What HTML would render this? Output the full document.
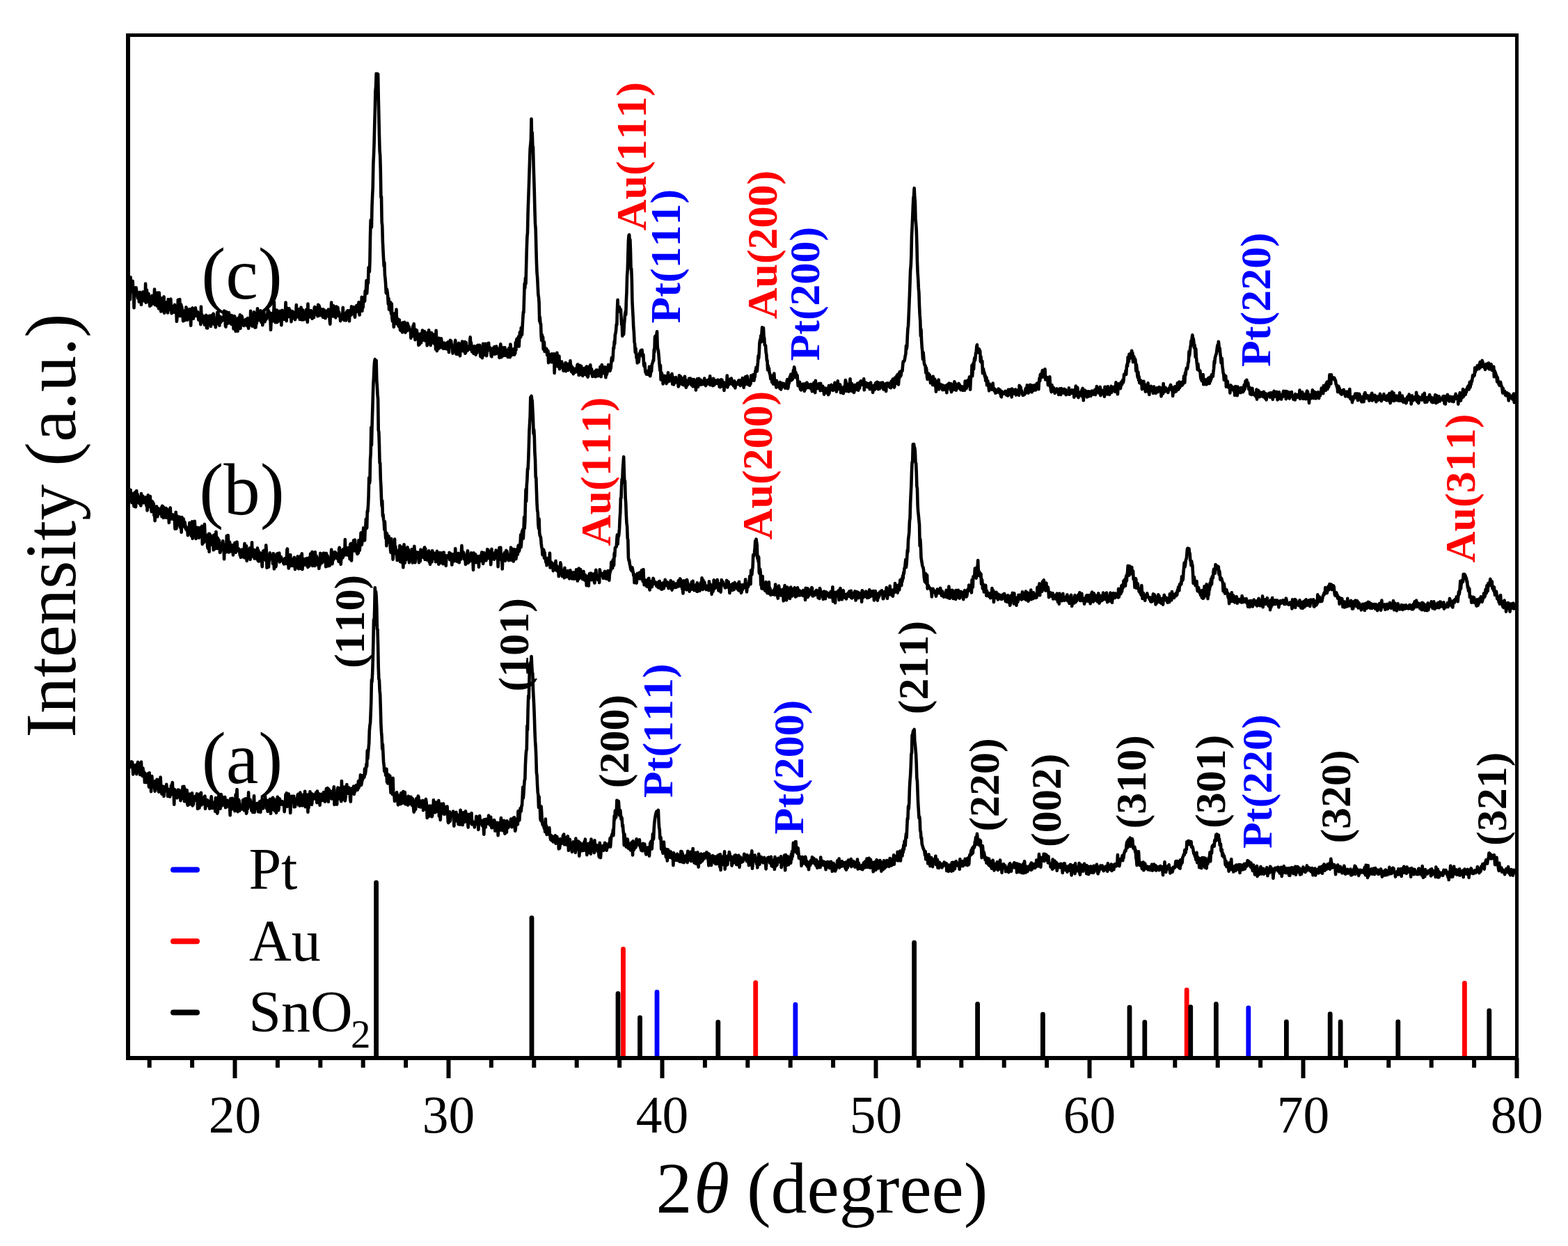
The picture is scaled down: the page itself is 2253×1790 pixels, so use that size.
<!DOCTYPE html>
<html><head><meta charset="utf-8"><title>XRD patterns</title>
<style>
html,body{margin:0;padding:0;background:#fff;overflow:hidden;}
svg{display:block;}
text{font-family:"Liberation Serif","Times New Roman",serif;font-kerning:none;}
.pl text{font-weight:bold;font-size:62px;}
</style></head><body>
<svg width="2253" height="1790" viewBox="0 0 2253 1790">
<rect width="2253" height="1790" fill="#fff"/>

<defs><clipPath id="pc"><rect x="187" y="53" width="1990" height="1464"/></clipPath></defs>
<g clip-path="url(#pc)" fill="none" stroke="#000" stroke-width="4.6" stroke-linejoin="round" stroke-linecap="round">
<path d="M187.0 430.3l.61 -31.9l.62 21.2l.61 -6.6l.62 1.2l.61 2.0l.61 -12.3l.62 12.8l.61 -4.1l.62 29.6l.61 -21.3l.61 -3.8l.62 0.9l.61 -2.4l.62 -2.4l.61 5.0l.61 6.4l.62 -4.7l.61 8.6l.62 -7.8l.61 1.9l.61 10.9l.62 -6.6l.61 -7.1l.62 2.6l.61 5.3l.61 10.1l.62 -15.1l.61 0.5l.62 9.0l.61 -12.9l.61 4.4l.62 8.5l.61 -1.8l.62 -3.1l.61 4.3l.61 -24.1l.62 27.1l.61 -13.5l.62 -4.6l.61 13.8l.61 3.2l.62 -7.7l.61 -4.1l.62 7.9l.61 -0.3l.61 10.4l.62 -4.3l.61 -3.5l.62 6.6l.61 -8.9l.61 -4.7l.62 10.7l.61 0.3l.62 -5.3l.61 -3.7l.61 7.3l.62 -18.6l.61 22.3l.62 -1.2l.61 -14.5l.61 12.0l.62 -6.8l.61 12.1l.62 -19.0l.61 8.0l.61 11.4l.62 3.4l.61 -22.7l.62 11.7l.61 5.9l.61 -6.2l.62 15.4l.61 -19.0l.62 10.9l.61 -9.4l.61 17.1l.62 -9.6l.61 -2.2l.62 -9.0l.61 23.6l.61 -6.2l.62 0.3l.61 2.8l.62 -5.2l.61 -6.6l.61 -0.9l.62 0.2l.61 15.2l.62 -19.3l.61 6.2l.61 2.1l.62 4.0l.61 2.6l.62 -12.4l.61 -3.0l.61 12.0l.62 8.6l.61 -2.9l.62 -3.5l.61 -3.5l.61 4.4l.62 -3.5l.61 7.5l.62 -10.9l.61 6.6l.61 -1.5l.62 4.7l.61 -2.0l.62 16.2l.61 -7.0l.61 0.2l.62 -24.1l.61 11.9l.62 -1.6l.61 8.0l.61 -19.1l.62 23.9l.61 -0.6l.62 -16.0l.61 2.4l.61 1.5l.62 5.9l.61 4.3l.62 9.8l.61 -15.1l.61 6.8l.62 -4.0l.61 11.2l.62 -6.8l.61 4.5l.61 -16.5l.62 6.2l.61 -4.0l.62 16.0l.61 -5.6l.61 -6.4l.62 -0.8l.61 6.6l.62 -7.9l.61 -1.4l.61 9.8l.62 13.7l.61 -18.2l.62 -2.0l.61 -4.0l.61 -0.9l.62 12.8l.61 2.4l.62 -5.5l.61 2.3l.61 -1.3l.62 0.4l.61 -11.2l.62 7.4l.61 4.1l.61 -5.9l.62 2.2l.61 -2.2l.62 3.5l.61 8.2l.61 -8.4l.62 1.9l.61 6.7l.62 -1.0l.61 7.2l.61 -25.5l.62 20.1l.61 -8.9l.62 4.3l.61 4.9l.61 1.8l.62 -0.2l.61 -5.8l.62 9.9l.61 -12.6l.61 1.1l.62 6.5l.61 -9.0l.62 18.5l.61 -7.6l.61 7.9l.62 -14.7l.61 -2.3l.62 3.9l.61 4.0l.61 -8.8l.62 6.6l.61 -2.5l.62 11.1l.61 -15.2l.61 11.7l.62 -11.3l.61 -2.0l.62 1.8l.61 -3.1l.61 9.1l.62 6.1l.61 -5.7l.62 3.2l.61 6.9l.61 -9.0l.62 -0.4l.61 -3.1l.62 -8.9l.61 16.1l.61 -16.9l.62 16.3l.61 -4.4l.62 7.8l.61 -7.9l.61 -5.0l.62 8.0l.61 -6.1l.62 2.6l.61 1.5l.61 -1.1l.62 -0.3l.61 -4.3l.62 4.4l.61 -13.0l.61 13.3l.62 -7.0l.61 15.6l.62 1.0l.61 -21.6l.61 14.1l.62 -1.8l.61 -6.2l.62 10.6l.61 -6.7l.61 -8.8l.62 10.1l.61 0.8l.62 1.7l.61 -9.0l.61 12.3l.62 0.8l.61 -12.6l.62 3.2l.61 3.9l.61 -3.3l.62 15.4l.61 -10.3l.62 -8.1l.61 1.4l.61 4.9l.62 15.7l.61 -16.6l.62 2.0l.61 2.6l.61 -3.8l.62 15.5l.61 -18.8l.62 8.4l.61 -3.9l.61 3.0l.62 -12.0l.61 19.6l.62 -12.6l.61 0.9l.61 -6.4l.62 1.3l.61 8.5l.62 2.8l.61 -1.6l.61 3.0l.62 -3.4l.61 -4.6l.62 5.3l.61 -1.6l.61 -4.7l.62 5.4l.61 3.7l.62 -7.0l.61 -4.0l.61 7.1l.62 7.7l.61 -14.0l.62 0.7l.61 -0.3l.61 8.9l.62 -20.3l.61 14.5l.62 5.4l.61 -13.3l.61 15.2l.62 -6.4l.61 -7.2l.62 4.9l.61 -11.6l.61 6.4l.62 15.7l.61 -18.0l.62 18.0l.61 -12.8l.61 7.1l.62 -6.3l.61 -15.2l.62 11.0l.61 4.9l.61 -8.9l.62 -1.4l.61 11.3l.62 -6.8l.61 -7.0l.61 6.6l.62 10.1l.61 -8.9l.62 9.2l.61 3.8l.61 -10.0l.62 -7.7l.61 -1.3l.62 8.3l.61 5.9l.61 -4.2l.62 1.8l.61 -6.7l.62 4.8l.61 -5.2l.61 0.8l.62 -6.4l.61 -2.0l.62 7.0l.61 -4.2l.61 0.8l.62 10.6l.61 -5.2l.62 19.7l.61 -13.2l.61 -10.4l.62 9.2l.61 -2.9l.62 -7.0l.61 11.6l.61 -12.4l.62 -15.1l.61 25.1l.62 -9.4l.61 13.7l.61 -14.1l.62 -3.6l.61 17.7l.62 -17.2l.61 8.2l.61 8.1l.62 -8.9l.61 -1.4l.62 1.1l.61 4.7l.61 -10.8l.62 9.1l.61 -0.3l.62 11.4l.61 -17.5l.61 -3.9l.62 10.7l.61 -7.5l.62 4.5l.61 -1.1l.61 6.7l.62 -12.0l.61 3.6l.62 -16.1l.61 10.8l.61 15.8l.62 -14.5l.61 -0.2l.62 -3.4l.61 11.7l.61 -2.6l.62 -8.9l.61 12.0l.62 -2.7l.61 3.2l.61 -9.1l.62 15.5l.61 -8.7l.62 -3.5l.61 -2.6l.61 1.7l.62 7.2l.61 -7.4l.62 8.8l.61 -3.3l.61 5.0l.62 -3.5l.61 -5.8l.62 -12.0l.61 14.3l.61 3.2l.62 -4.1l.61 2.5l.62 -6.7l.61 0.6l.61 -3.7l.62 14.9l.61 -7.8l.62 -4.2l.61 -5.5l.61 7.6l.62 10.3l.61 -6.4l.62 -7.7l.61 14.0l.61 -0.1l.62 -2.9l.61 -1.3l.62 2.4l.61 -4.0l.61 1.5l.62 -10.1l.61 14.7l.62 -8.2l.61 11.5l.61 -26.3l.62 17.8l.61 1.7l.62 -8.6l.61 5.2l.61 1.8l.62 -1.1l.61 -7.2l.62 2.5l.61 7.5l.61 1.6l.62 -7.6l.61 -0.2l.62 0.8l.61 5.4l.61 -13.5l.62 -1.8l.61 9.3l.62 -8.0l.61 3.4l.61 4.3l.62 2.5l.61 -10.0l.62 12.0l.61 -16.6l.61 14.9l.62 -13.7l.61 1.9l.62 12.4l.61 -6.8l.61 -2.6l.62 2.3l.61 5.8l.62 -3.3l.61 0.1l.61 7.0l.62 -11.4l.61 1.6l.62 -0.4l.61 10.9l.61 -1.1l.62 1.9l.61 -8.5l.62 -0.8l.61 6.5l.61 -8.0l.62 7.9l.61 -0.7l.62 -9.1l.61 4.0l.61 -0.2l.62 11.9l.61 5.5l.62 -17.2l.61 0.7l.61 -14.7l.62 16.1l.61 -1.4l.62 -6.8l.61 12.0l.61 -15.1l.62 8.7l.61 2.3l.62 -8.9l.61 13.6l.61 1.3l.62 -15.7l.61 -0.1l.62 12.9l.61 -4.0l.61 -7.6l.62 5.9l.61 1.3l.62 -0.3l.61 6.3l.61 -2.8l.62 8.9l.61 -2.5l.62 -4.5l.61 2.6l.61 1.5l.62 -3.9l.61 -12.5l.62 13.4l.61 -5.1l.61 10.0l.62 -9.9l.61 2.8l.62 -1.3l.61 8.7l.61 -9.8l.62 -3.0l.61 3.7l.62 -4.9l.61 3.8l.61 -1.2l.62 1.7l.61 10.6l.62 -15.2l.61 2.7l.61 -1.7l.62 5.6l.61 -12.3l.62 3.0l.61 4.1l.61 3.6l.62 -4.1l.61 -3.2l.62 -2.6l.61 8.7l.61 5.9l.62 -7.7l.61 -1.2l.62 1.3l.61 -9.5l.61 3.7l.62 -0.1l.61 3.2l.62 -2.7l.61 -8.4l.61 14.9l.62 3.2l.61 -13.8l.62 3.6l.61 -1.7l.61 2.6l.62 -16.4l.61 20.0l.62 -15.4l.61 10.5l.61 -9.6l.62 -4.8l.61 -0.1l.62 5.3l.61 -14.7l.61 1.0l.62 -3.7l.61 -12.2l.62 18.4l.61 -9.4l.61 -9.2l.62 3.7l.61 -22.5l.62 -0.2l.61 6.5l.61 -15.1l.62 -37.3l.61 -21.6l.62 6.6l.61 3.4l.61 -29.5l.62 -15.6l.61 -12.3l.62 -33.6l.61 -12.4l.61 -17.4l.62 -25.1l.61 -22.0l.62 -27.7l.61 -6.1l.61 -19.0l.62 9.7l.61 11.8l.62 -21.1l.61 0.4l.61 32.1l.62 27.1l.61 27.8l.62 23.0l.61 6.8l.61 21.8l.62 38.4l.61 -0.9l.62 36.4l.61 5.0l.61 23.0l.62 12.6l.61 12.1l.62 10.6l.61 -5.3l.61 18.3l.62 4.9l.61 8.5l.62 12.3l.61 -6.1l.61 1.2l.62 3.8l.61 6.4l.62 10.5l.61 -8.1l.61 16.0l.62 -3.7l.61 -1.4l.62 -5.5l.61 12.3l.61 4.6l.62 -14.7l.61 20.9l.62 4.3l.61 -7.4l.61 2.2l.62 13.5l.61 -6.6l.62 -12.8l.61 6.6l.61 0.0l.62 0.9l.61 -13.3l.62 20.6l.61 -8.1l.61 5.8l.62 -1.2l.61 6.9l.62 -6.7l.61 -2.5l.61 8.9l.62 6.0l.61 -10.2l.62 11.0l.61 -6.4l.61 -4.4l.62 13.2l.61 -14.0l.62 11.7l.61 -8.9l.61 6.3l.62 -9.9l.61 2.8l.62 12.1l.61 -5.0l.61 -0.5l.62 -2.6l.61 5.8l.62 -10.9l.61 2.1l.61 6.2l.62 -3.8l.61 1.2l.62 4.1l.61 -0.1l.61 -0.2l.62 11.7l.61 -3.6l.62 1.6l.61 -7.3l.61 -2.5l.62 -5.4l.61 6.9l.62 -10.1l.61 9.3l.61 8.3l.62 5.4l.61 -3.6l.62 -10.7l.61 8.4l.61 -7.4l.62 9.8l.61 -5.3l.62 6.1l.61 10.4l.61 -9.5l.62 8.6l.61 -12.5l.62 -2.8l.61 10.1l.61 2.6l.62 -13.2l.61 4.0l.62 -8.7l.61 7.6l.61 6.7l.62 -5.5l.61 -2.6l.62 -4.6l.61 10.7l.61 2.8l.62 -0.9l.61 -1.7l.62 -8.7l.61 18.1l.61 -10.4l.62 -0.3l.61 5.4l.62 -16.7l.61 12.6l.61 -0.1l.62 3.2l.61 6.0l.62 -4.9l.61 -13.2l.61 9.0l.62 3.5l.61 -0.1l.62 -8.1l.61 -1.9l.61 13.1l.62 -0.9l.61 -1.9l.62 -9.6l.61 20.6l.61 -26.9l.62 14.9l.61 14.5l.62 -12.8l.61 2.5l.61 -7.9l.62 14.9l.61 -15.1l.62 9.2l.61 -0.5l.61 -6.6l.62 11.4l.61 -13.1l.62 4.5l.61 4.0l.61 -2.0l.62 5.2l.61 2.9l.62 -6.8l.61 -1.3l.61 0.3l.62 1.1l.61 6.9l.62 -5.7l.61 3.8l.61 -2.7l.62 -4.2l.61 9.9l.62 -10.7l.61 6.1l.61 8.6l.62 -14.6l.61 6.0l.62 -8.6l.61 6.3l.61 -5.5l.62 6.6l.61 -1.0l.62 4.0l.61 8.3l.61 -7.3l.62 2.3l.61 -4.0l.62 -1.0l.61 -3.3l.61 -5.4l.62 10.7l.61 9.0l.62 -6.5l.61 -5.6l.61 12.4l.62 -11.7l.61 -1.0l.62 -3.3l.61 1.5l.61 4.1l.62 12.8l.61 -12.4l.62 -4.6l.61 2.4l.61 2.2l.62 -8.3l.61 10.4l.62 3.3l.61 -2.1l.61 1.6l.62 -10.5l.61 -2.3l.62 16.8l.61 -1.0l.61 -14.7l.62 9.8l.61 -1.0l.62 3.0l.61 -1.8l.61 -4.0l.62 4.0l.61 -0.2l.62 -1.1l.61 -10.1l.61 -6.3l.62 12.4l.61 -4.7l.62 10.6l.61 2.6l.61 -2.5l.62 -3.5l.61 2.5l.62 6.2l.61 -10.6l.61 9.3l.62 -1.2l.61 -2.4l.62 6.6l.61 -12.0l.61 9.3l.62 -10.4l.61 1.0l.62 -1.6l.61 8.4l.61 -7.6l.62 5.5l.61 -6.5l.62 12.2l.61 4.3l.61 -8.8l.62 7.8l.61 -5.9l.62 8.9l.61 -11.3l.61 -9.2l.62 16.9l.61 -8.8l.62 -5.0l.61 2.2l.61 -5.3l.62 8.1l.61 -5.0l.62 14.2l.61 -4.5l.61 -12.7l.62 0.9l.61 5.3l.62 -7.4l.61 10.1l.61 0.4l.62 -3.9l.61 1.4l.62 5.8l.61 5.2l.61 0.5l.62 -7.9l.61 4.6l.62 -8.6l.61 6.5l.61 -7.4l.62 9.4l.61 -10.7l.62 1.6l.61 5.4l.61 3.2l.62 -10.8l.61 5.1l.62 3.8l.61 0.6l.61 -5.7l.62 5.2l.61 -1.9l.62 9.3l.61 -4.5l.61 -10.3l.62 -4.7l.61 12.7l.62 6.0l.61 -5.5l.61 4.0l.62 -7.5l.61 -4.8l.62 11.6l.61 -3.6l.61 3.3l.62 -11.4l.61 8.5l.62 -4.5l.61 7.8l.61 -7.7l.62 -0.3l.61 -0.0l.62 10.1l.61 -7.1l.61 -4.5l.62 -1.7l.61 -0.4l.62 13.7l.61 -18.5l.61 5.0l.62 7.9l.61 2.7l.62 -7.9l.61 4.8l.61 -0.6l.62 0.7l.61 -5.9l.62 8.5l.61 -8.8l.61 6.8l.62 -15.8l.61 10.8l.62 -13.6l.61 -2.5l.61 10.4l.62 -9.0l.61 6.0l.62 -10.5l.61 14.0l.61 -11.4l.62 -9.0l.61 5.4l.62 1.5l.61 -13.2l.61 4.3l.62 5.6l.61 -12.0l.62 -10.8l.61 -9.7l.61 0.7l.62 -21.9l.61 -19.7l.62 6.4l.61 -14.3l.61 8.0l.62 -25.6l.61 -23.5l.62 -18.1l.61 -6.1l.61 -28.9l.62 -18.5l.61 -17.2l.62 -19.3l.61 -19.6l.61 -17.4l.62 -5.9l.61 -7.3l.62 -29.2l.61 31.2l.61 -11.5l.62 19.3l.61 1.0l.62 25.9l.61 19.4l.61 20.2l.62 26.2l.61 18.8l.62 7.7l.61 24.5l.61 22.9l.62 15.1l.61 6.6l.62 12.9l.61 12.2l.61 3.6l.62 7.8l.61 26.7l.62 -5.8l.61 9.2l.61 0.2l.62 17.4l.61 6.8l.62 -8.1l.61 7.7l.61 -4.5l.62 17.3l.61 -2.5l.62 -7.9l.61 13.8l.61 -3.2l.62 2.0l.61 1.2l.62 -4.3l.61 2.0l.61 7.6l.62 -2.5l.61 -3.9l.62 17.2l.61 -11.2l.61 -1.0l.62 0.1l.61 8.2l.62 2.3l.61 -3.2l.61 4.0l.62 -12.0l.61 6.6l.62 0.1l.61 3.0l.61 3.1l.62 -12.8l.61 27.6l.62 -20.5l.61 6.8l.61 2.9l.62 0.5l.61 -2.8l.62 -15.9l.61 9.8l.61 9.9l.62 -8.4l.61 -0.3l.62 -6.4l.61 18.7l.61 -3.4l.62 -6.9l.61 4.2l.62 0.4l.61 -4.9l.61 4.5l.62 3.0l.61 1.7l.62 3.9l.61 -6.1l.61 -2.3l.62 4.7l.61 -5.1l.62 -2.9l.61 12.3l.61 -7.5l.62 2.7l.61 2.9l.62 -8.7l.61 9.1l.61 -0.8l.62 -2.6l.61 2.6l.62 -5.6l.61 -7.1l.61 9.8l.62 -3.0l.61 9.2l.62 -2.9l.61 -3.8l.61 3.0l.62 6.7l.61 -0.9l.62 -3.7l.61 0.5l.61 -3.5l.62 0.9l.61 3.8l.62 -3.4l.61 2.2l.61 -6.9l.62 -2.7l.61 0.0l.62 6.4l.61 9.0l.61 -0.6l.62 -10.8l.61 -2.6l.62 11.8l.61 -1.5l.61 -9.0l.62 12.2l.61 -4.3l.62 5.8l.61 -4.8l.61 2.9l.62 -2.8l.61 -6.2l.62 3.7l.61 -2.2l.61 7.6l.62 -9.0l.61 -2.6l.62 11.1l.61 2.4l.61 1.6l.62 -1.7l.61 -12.9l.62 4.1l.61 0.8l.61 2.7l.62 -10.5l.61 10.6l.62 1.5l.61 -6.0l.61 5.3l.62 5.3l.61 -5.6l.62 5.0l.61 -0.2l.61 -3.0l.62 -0.1l.61 -3.7l.62 8.0l.61 -8.5l.61 -1.1l.62 6.9l.61 -7.1l.62 5.6l.61 3.1l.61 -4.8l.62 0.0l.61 4.0l.62 -0.9l.61 -11.4l.61 1.1l.62 13.0l.61 -4.8l.62 -12.4l.61 3.5l.61 6.7l.62 -5.2l.61 7.1l.62 -2.2l.61 1.9l.61 -8.5l.62 8.6l.61 6.4l.62 -14.1l.61 10.2l.61 -2.0l.62 -2.2l.61 -4.1l.62 -6.1l.61 0.8l.61 7.5l.62 0.2l.61 0.3l.62 -2.6l.61 -1.7l.61 -8.6l.62 -6.1l.61 5.1l.62 -1.2l.61 -5.5l.61 -12.5l.62 1.0l.61 -10.4l.62 3.5l.61 -13.1l.61 -1.7l.62 -4.3l.61 -8.6l.62 0.3l.61 -22.5l.61 -13.1l.62 15.7l.61 0.5l.62 -0.2l.61 -5.8l.61 5.1l.62 2.0l.61 -3.6l.62 10.1l.61 11.7l.61 -2.2l.62 18.5l.61 -18.5l.62 7.6l.61 8.6l.61 -12.7l.62 -7.4l.61 -7.7l.62 -4.5l.61 3.9l.61 -19.5l.62 -13.6l.61 -22.7l.62 -7.6l.61 -21.3l.61 -21.3l.62 -7.6l.61 -1.0l.62 7.6l.61 -0.6l.61 16.4l.62 26.2l.61 -0.9l.62 15.1l.61 31.9l.61 12.1l.62 10.7l.61 14.5l.62 7.0l.61 13.9l.61 2.5l.62 12.4l.61 -5.8l.62 6.0l.61 8.1l.61 -0.7l.62 7.8l.61 -2.8l.62 -2.1l.61 3.5l.61 -4.9l.62 -7.4l.61 -0.5l.62 -1.7l.61 -2.1l.61 -0.4l.62 2.0l.61 -2.3l.62 8.7l.61 1.1l.61 -3.1l.62 14.6l.61 1.9l.62 -4.5l.61 7.0l.61 6.4l.62 -2.5l.61 5.2l.62 -2.1l.61 2.2l.61 -4.6l.62 3.7l.61 -3.5l.62 5.1l.61 -11.7l.61 9.6l.62 4.0l.61 -4.1l.62 -4.0l.61 1.3l.61 -9.0l.62 -2.6l.61 -1.1l.62 -3.3l.61 0.6l.61 -15.9l.62 3.5l.61 -21.1l.62 -1.8l.61 -0.1l.61 5.6l.62 -8.2l.61 -3.8l.62 21.0l.61 4.7l.61 1.4l.62 6.6l.61 7.3l.62 8.6l.61 6.5l.61 -7.7l.62 20.8l.61 -9.6l.62 -0.1l.61 6.1l.61 -1.8l.62 11.3l.61 -5.3l.62 -6.4l.61 0.4l.61 -0.1l.62 1.1l.61 5.1l.62 -5.9l.61 10.8l.61 -7.7l.62 -0.1l.61 5.4l.62 -13.5l.61 5.0l.61 7.4l.62 -2.6l.61 0.0l.62 2.0l.61 -4.5l.61 2.2l.62 -5.4l.61 -2.3l.62 14.7l.61 -10.1l.61 1.1l.62 9.8l.61 -1.4l.62 -7.3l.61 0.1l.61 2.2l.62 -4.0l.61 7.0l.62 -1.8l.61 0.0l.61 3.0l.62 -0.1l.61 5.2l.62 -1.4l.61 -14.8l.61 12.1l.62 -9.2l.61 -1.4l.62 9.9l.61 -6.4l.61 1.8l.62 6.4l.61 -7.9l.62 -1.0l.61 5.7l.61 4.1l.62 -3.1l.61 -9.5l.62 4.2l.61 2.3l.61 9.6l.62 -4.7l.61 -0.2l.62 1.7l.61 -6.9l.61 3.7l.62 0.1l.61 -6.7l.62 4.4l.61 2.7l.61 -7.4l.62 8.6l.61 -0.2l.62 1.3l.61 -8.2l.61 4.1l.62 6.1l.61 -3.0l.62 -7.1l.61 4.6l.61 5.5l.62 -6.8l.61 2.1l.62 10.0l.61 -11.8l.61 -0.3l.62 -4.0l.61 1.6l.62 9.7l.61 -7.3l.61 -4.7l.62 1.2l.61 4.2l.62 3.5l.61 -6.8l.61 6.6l.62 -5.4l.61 3.8l.62 0.8l.61 0.4l.61 -4.6l.62 1.2l.61 3.0l.62 -8.0l.61 6.6l.61 1.5l.62 2.4l.61 -4.8l.62 -0.7l.61 1.5l.61 -3.9l.62 2.4l.61 2.8l.62 -0.6l.61 -5.9l.61 3.2l.62 -7.9l.61 13.0l.62 -5.9l.61 3.4l.61 -5.9l.62 4.5l.61 2.4l.62 2.4l.61 -10.4l.61 9.8l.62 -4.5l.61 -2.7l.62 5.6l.61 -3.4l.61 0.0l.62 -1.8l.61 4.1l.62 -0.8l.61 -0.9l.61 -3.4l.62 1.9l.61 4.1l.62 3.9l.61 -5.8l.61 6.4l.62 -6.3l.61 -4.7l.62 7.6l.61 -7.0l.61 6.0l.62 3.0l.61 -6.1l.62 1.0l.61 11.3l.61 -9.8l.62 0.1l.61 2.3l.62 -3.9l.61 0.1l.61 2.1l.62 -12.3l.61 16.8l.62 -10.9l.61 -0.0l.61 7.1l.62 -2.3l.61 -5.6l.62 6.5l.61 -6.0l.61 2.0l.62 -3.6l.61 3.0l.62 5.4l.61 -1.2l.61 0.8l.62 2.7l.61 -4.3l.62 -2.7l.61 1.7l.61 8.4l.62 -7.1l.61 1.3l.62 -1.8l.61 1.4l.61 0.8l.62 -1.9l.61 -0.7l.62 -2.8l.61 -0.3l.61 5.5l.62 1.5l.61 0.7l.62 -3.9l.61 -3.9l.61 6.4l.62 -0.2l.61 -9.3l.62 10.0l.61 -1.0l.61 4.7l.62 -12.3l.61 -0.8l.62 9.0l.61 -11.4l.61 4.5l.62 -1.7l.61 0.2l.62 -4.1l.61 7.2l.61 5.1l.62 -2.5l.61 -0.2l.62 -3.8l.61 7.7l.61 -4.3l.62 1.9l.61 -11.8l.62 7.9l.61 -7.1l.61 6.1l.62 -1.4l.61 -6.6l.62 4.9l.61 3.4l.61 -4.2l.62 -1.0l.61 -8.2l.62 -1.1l.61 -4.3l.61 3.3l.62 2.1l.61 -6.8l.62 -5.8l.61 -9.5l.61 3.3l.62 -8.2l.61 -13.5l.62 -4.4l.61 1.9l.61 -8.0l.62 9.0l.61 -12.4l.62 -8.6l.61 1.6l.61 11.5l.62 -12.3l.61 12.2l.62 2.2l.61 10.1l.61 0.1l.62 0.5l.61 10.0l.62 2.8l.61 9.2l.61 -0.6l.62 13.8l.61 -6.2l.62 5.9l.61 -2.2l.61 6.2l.62 1.8l.61 2.6l.62 5.0l.61 -5.0l.61 -0.0l.62 9.7l.61 -5.2l.62 -0.9l.61 8.7l.61 -1.0l.62 -14.3l.61 10.3l.62 5.5l.61 0.6l.61 -5.4l.62 9.2l.61 -9.8l.62 2.7l.61 1.8l.61 -0.4l.62 3.7l.61 1.1l.62 -4.4l.61 6.3l.61 -8.7l.62 2.1l.61 8.4l.62 -6.8l.61 4.2l.61 -6.3l.62 0.8l.61 0.7l.62 1.2l.61 -2.1l.61 1.5l.62 2.7l.61 2.2l.62 -4.7l.61 2.2l.61 0.9l.62 -8.6l.61 -2.4l.62 13.1l.61 -1.7l.61 -6.0l.62 0.4l.61 -6.5l.62 -3.1l.61 6.0l.61 -9.4l.62 8.7l.61 -9.0l.62 2.3l.61 5.3l.61 -2.0l.62 -11.3l.61 5.2l.62 -9.7l.61 2.7l.61 5.7l.62 6.4l.61 -6.7l.62 7.1l.61 0.2l.61 -3.9l.62 6.7l.61 8.6l.62 -5.5l.61 3.7l.61 2.4l.62 -5.8l.61 9.0l.62 1.7l.61 0.8l.61 -0.8l.62 -7.0l.61 -0.3l.62 -0.5l.61 -0.3l.61 0.6l.62 7.6l.61 2.1l.62 -8.6l.61 6.1l.61 -8.4l.62 3.9l.61 -2.6l.62 -2.5l.61 7.0l.61 0.2l.62 -2.0l.61 -0.4l.62 -1.8l.61 3.5l.61 -1.8l.62 3.5l.61 -5.9l.62 5.9l.61 1.2l.61 3.1l.62 -0.8l.61 -3.5l.62 -3.5l.61 -4.7l.61 7.5l.62 5.8l.61 1.1l.62 -17.2l.61 7.3l.61 1.7l.62 -2.8l.61 5.1l.62 -0.6l.61 -2.3l.61 2.0l.62 -6.3l.61 2.5l.62 0.3l.61 7.4l.61 -10.3l.62 5.8l.61 4.0l.62 -3.4l.61 3.5l.61 -5.9l.62 4.4l.61 1.9l.62 5.4l.61 -6.1l.61 2.8l.62 -5.7l.61 0.3l.62 6.0l.61 -4.1l.61 3.4l.62 -2.9l.61 5.7l.62 1.1l.61 -13.1l.61 10.9l.62 -5.8l.61 0.2l.62 -2.5l.61 3.4l.61 -7.4l.62 1.5l.61 -0.2l.62 4.2l.61 2.6l.61 -0.8l.62 -1.5l.61 -3.9l.62 -4.8l.61 8.7l.61 -1.1l.62 0.8l.61 4.3l.62 -6.5l.61 -0.1l.61 -8.6l.62 11.5l.61 -2.5l.62 -2.8l.61 4.5l.61 -5.8l.62 2.0l.61 10.0l.62 -4.9l.61 0.6l.61 -0.7l.62 -0.5l.61 -1.9l.62 8.4l.61 -9.5l.61 3.2l.62 -3.9l.61 -0.6l.62 -8.4l.61 2.0l.61 13.8l.62 -0.2l.61 -7.8l.62 1.6l.61 2.5l.61 -6.5l.62 11.0l.61 -11.3l.62 1.2l.61 -8.2l.61 17.1l.62 -5.9l.61 6.2l.62 -10.5l.61 5.3l.61 -1.1l.62 0.4l.61 7.5l.62 0.7l.61 -3.6l.61 -7.2l.62 5.2l.61 1.7l.62 -3.2l.61 0.1l.61 -0.4l.62 -5.6l.61 4.5l.62 5.4l.61 -10.4l.61 4.3l.62 2.9l.61 -8.8l.62 4.9l.61 -6.3l.61 4.3l.62 -3.2l.61 2.0l.62 1.6l.61 0.8l.61 0.3l.62 -8.8l.61 15.9l.62 -7.4l.61 -3.3l.61 1.8l.62 3.8l.61 -5.2l.62 2.3l.61 -0.2l.61 4.1l.62 -5.1l.61 4.8l.62 -0.4l.61 -1.9l.61 5.6l.62 -4.9l.61 -4.7l.62 5.9l.61 -0.6l.61 -0.6l.62 1.1l.61 8.5l.62 -8.4l.61 1.0l.61 -2.8l.62 6.3l.61 -5.4l.62 -2.9l.61 -1.7l.61 7.0l.62 0.9l.61 -9.2l.62 3.5l.61 5.4l.61 1.6l.62 -9.3l.61 3.6l.62 5.0l.61 -5.5l.61 0.4l.62 -0.4l.61 -3.1l.62 5.4l.61 1.0l.61 -6.8l.62 5.9l.61 4.0l.62 -3.7l.61 2.9l.61 -6.1l.62 7.6l.61 -8.7l.62 10.6l.61 -9.5l.61 -1.2l.62 -0.9l.61 1.8l.62 -0.5l.61 -1.0l.61 1.2l.62 3.8l.61 0.7l.62 -5.2l.61 6.1l.61 -9.3l.62 -0.4l.61 -0.7l.62 6.7l.61 -9.1l.61 0.2l.62 10.5l.61 1.4l.62 -1.9l.61 -12.1l.61 5.7l.62 2.8l.61 -3.6l.62 -7.7l.61 4.6l.61 -6.3l.62 1.1l.61 13.3l.62 -7.0l.61 -9.9l.61 -1.2l.62 7.1l.61 -5.8l.62 3.7l.61 -6.7l.61 0.3l.62 0.0l.61 -7.5l.62 -6.2l.61 0.6l.61 -0.8l.62 -1.0l.61 -3.1l.62 -4.2l.61 -2.1l.61 -12.0l.62 4.8l.61 -3.9l.62 -15.8l.61 -9.8l.61 -4.3l.62 -14.1l.61 -14.6l.62 -15.3l.61 -17.6l.61 -17.9l.62 -6.4l.61 -14.2l.62 -29.3l.61 -11.3l.61 -13.8l.62 -16.7l.61 -11.9l.62 -4.1l.61 -10.2l.61 13.3l.62 6.1l.61 24.2l.62 7.5l.61 9.0l.61 18.6l.62 26.5l.61 16.3l.62 8.5l.61 13.6l.61 7.1l.62 19.0l.61 12.7l.62 7.8l.61 22.2l.61 -9.5l.62 16.2l.61 9.4l.62 6.0l.61 11.0l.61 -9.6l.62 7.1l.61 7.4l.62 3.3l.61 0.5l.61 0.8l.62 10.2l.61 -7.2l.62 3.9l.61 10.1l.61 2.7l.62 -2.3l.61 -6.1l.62 1.2l.61 0.8l.61 0.0l.62 3.9l.61 7.7l.62 -3.5l.61 -3.3l.61 0.5l.62 -0.9l.61 10.2l.62 -12.5l.61 9.7l.61 -6.4l.62 2.0l.61 -1.3l.62 10.2l.61 -3.8l.61 11.6l.62 -14.7l.61 0.0l.62 7.0l.61 0.2l.61 -3.1l.62 -6.6l.61 13.9l.62 -3.2l.61 -0.5l.61 -3.7l.62 5.1l.61 -4.6l.62 2.6l.61 -0.8l.61 5.8l.62 -6.6l.61 0.6l.62 5.9l.61 -3.4l.61 -0.8l.62 -0.8l.61 4.8l.62 -6.1l.61 4.4l.61 6.2l.62 -6.3l.61 -4.5l.62 -1.6l.61 5.4l.61 -5.3l.62 -1.4l.61 3.3l.62 -1.2l.61 7.7l.61 -9.0l.62 11.8l.61 -9.0l.62 3.4l.61 2.1l.61 -1.7l.62 2.0l.61 -6.7l.62 -4.9l.61 8.0l.61 -5.8l.62 4.3l.61 5.9l.62 -4.5l.61 -1.6l.61 -2.1l.62 3.2l.61 0.4l.62 -5.5l.61 7.2l.61 -5.4l.62 4.9l.61 -2.7l.62 5.5l.61 -0.7l.61 -3.4l.62 -0.7l.61 2.0l.62 3.4l.61 -1.4l.61 -3.8l.62 0.3l.61 4.7l.62 -13.0l.61 8.1l.61 -6.1l.62 8.4l.61 -7.9l.62 0.8l.61 -4.6l.61 3.6l.62 2.1l.61 2.5l.62 -13.0l.61 2.0l.61 16.2l.62 -13.7l.61 -5.8l.62 0.2l.61 -15.5l.61 15.5l.62 -8.7l.61 -9.7l.62 8.3l.61 -11.0l.61 -5.0l.62 3.6l.61 -3.8l.62 -7.0l.61 -1.1l.61 -8.3l.62 -2.4l.61 9.6l.62 1.5l.61 -3.9l.61 0.8l.62 -1.8l.61 3.5l.62 -0.8l.61 15.2l.61 -7.1l.62 7.7l.61 1.5l.62 -2.8l.61 17.5l.61 -6.9l.62 1.1l.61 6.3l.62 -1.8l.61 6.1l.61 -2.1l.62 8.1l.61 -0.5l.62 -4.2l.61 11.0l.61 -2.2l.62 -4.0l.61 6.8l.62 1.1l.61 6.4l.61 -9.9l.62 7.3l.61 -3.1l.62 3.3l.61 -3.0l.61 1.3l.62 2.5l.61 -6.1l.62 -3.2l.61 8.3l.61 -1.3l.62 2.3l.61 2.3l.62 -3.0l.61 5.6l.61 -4.5l.62 0.8l.61 2.9l.62 -0.8l.61 -2.4l.61 1.0l.62 -3.2l.61 0.7l.62 2.8l.61 2.8l.61 -4.6l.62 4.9l.61 4.3l.62 0.9l.61 -7.9l.61 3.9l.62 -1.6l.61 0.8l.62 0.2l.61 -1.1l.61 1.2l.62 -2.3l.61 -1.6l.62 2.0l.61 0.9l.61 2.8l.62 -3.2l.61 1.5l.62 2.6l.61 -8.8l.61 2.5l.62 3.0l.61 -1.9l.62 -3.8l.61 7.5l.61 -4.0l.62 -3.4l.61 10.8l.62 -11.9l.61 4.8l.61 -2.5l.62 3.0l.61 1.7l.62 -5.2l.61 2.7l.61 -0.1l.62 -3.3l.61 8.1l.62 -3.7l.61 -1.8l.61 -1.4l.62 1.3l.61 1.7l.62 -2.3l.61 6.4l.61 -14.2l.62 1.5l.61 7.0l.62 -5.9l.61 6.6l.61 -2.3l.62 4.6l.61 -0.7l.62 3.3l.61 -1.5l.61 1.2l.62 -2.7l.61 1.9l.62 -2.2l.61 -4.1l.61 -2.6l.62 0.1l.61 6.2l.62 -10.8l.61 9.5l.61 -3.6l.62 5.4l.61 -2.1l.62 -3.8l.61 2.7l.61 -8.7l.62 9.3l.61 0.5l.62 -8.9l.61 9.8l.61 -4.0l.62 0.7l.61 -6.4l.62 7.2l.61 -0.5l.61 -2.8l.62 -4.3l.61 5.9l.62 1.2l.61 -4.1l.61 1.5l.62 -7.1l.61 1.8l.62 -0.3l.61 -2.1l.61 9.2l.62 -10.8l.61 -5.3l.62 4.1l.61 -9.2l.61 4.3l.62 0.2l.61 -6.4l.62 -0.6l.61 -3.5l.61 3.6l.62 -3.8l.61 9.7l.62 -4.2l.61 -3.1l.61 -4.0l.62 15.1l.61 -1.7l.62 -2.0l.61 0.4l.61 1.4l.62 -1.0l.61 10.7l.62 -5.1l.61 -5.1l.61 4.4l.62 -6.2l.61 13.6l.62 1.5l.61 4.8l.61 2.1l.62 -10.1l.61 5.3l.62 2.8l.61 -0.2l.61 -4.3l.62 5.4l.61 -0.8l.62 3.7l.61 -4.9l.61 -0.4l.62 -0.7l.61 0.7l.62 -1.2l.61 1.8l.61 3.3l.62 0.0l.61 3.4l.62 -0.7l.61 -1.6l.61 -6.4l.62 6.4l.61 2.3l.62 -8.9l.61 0.7l.61 0.7l.62 -0.2l.61 2.8l.62 -2.3l.61 4.9l.61 -5.8l.62 4.0l.61 -1.3l.62 -1.6l.61 7.3l.61 -3.6l.62 1.9l.61 -3.1l.62 3.8l.61 -0.3l.61 -2.8l.62 -5.8l.61 9.4l.62 -0.4l.61 -1.8l.61 0.2l.62 -0.4l.61 0.3l.62 -4.3l.61 3.4l.61 1.4l.62 -3.4l.61 -1.2l.62 10.2l.61 -4.5l.61 -3.3l.62 -0.7l.61 -7.7l.62 4.4l.61 4.3l.61 5.5l.62 -12.1l.61 5.0l.62 9.4l.61 -4.5l.61 -0.9l.62 2.8l.61 -4.7l.62 -0.2l.61 3.2l.61 0.5l.62 -6.9l.61 9.3l.62 -11.8l.61 3.8l.61 13.6l.62 -12.9l.61 4.2l.62 -6.0l.61 2.5l.61 -1.5l.62 1.2l.61 3.7l.62 4.0l.61 -3.2l.61 2.5l.62 -7.5l.61 7.1l.62 -3.2l.61 2.8l.61 -6.4l.62 0.6l.61 5.8l.62 -2.8l.61 -1.8l.61 -2.9l.62 2.1l.61 2.1l.62 0.8l.61 -4.6l.61 0.7l.62 2.8l.61 -5.6l.62 7.3l.61 -3.4l.61 -0.5l.62 -8.2l.61 2.9l.62 1.9l.61 1.6l.61 -1.9l.62 5.2l.61 -0.9l.62 -1.5l.61 -6.4l.61 12.3l.62 -6.1l.61 3.1l.62 -4.6l.61 2.4l.61 2.4l.62 -1.7l.61 2.6l.62 -4.2l.61 7.7l.61 -14.0l.62 4.8l.61 5.4l.62 -4.5l.61 -0.8l.61 -4.8l.62 10.5l.61 -11.2l.62 8.5l.61 -1.2l.61 2.3l.62 2.0l.61 -7.9l.62 -0.5l.61 1.7l.61 -5.2l.62 8.9l.61 -4.5l.62 1.8l.61 -4.8l.61 3.9l.62 -2.5l.61 1.8l.62 -3.9l.61 7.3l.61 -6.3l.62 -7.2l.61 11.3l.62 -3.8l.61 -2.5l.61 11.9l.62 -9.7l.61 -5.2l.62 2.1l.61 3.0l.61 -2.9l.62 4.7l.61 -1.4l.62 -7.8l.61 2.1l.61 1.2l.62 -5.1l.61 -1.4l.62 3.6l.61 -3.1l.61 -8.7l.62 1.4l.61 -1.4l.62 -0.9l.61 -4.6l.61 5.8l.62 -11.6l.61 -3.1l.62 2.5l.61 -12.7l.61 2.3l.62 4.1l.61 -10.6l.62 -0.3l.61 6.1l.61 -4.3l.62 -2.8l.61 0.1l.62 -4.0l.61 4.7l.61 -1.2l.62 12.9l.61 -6.4l.62 -1.5l.61 3.7l.61 3.0l.62 -3.2l.61 5.0l.62 12.1l.61 -9.1l.61 5.8l.62 8.6l.61 4.1l.62 -7.7l.61 11.5l.61 -5.2l.62 9.3l.61 -2.8l.62 -1.5l.61 5.0l.61 0.6l.62 -3.9l.61 11.7l.62 -8.3l.61 6.3l.61 -5.2l.62 -4.2l.61 3.1l.62 4.2l.61 3.3l.61 4.3l.62 -5.6l.61 -0.9l.62 -3.1l.61 4.5l.61 1.5l.62 -8.7l.61 12.8l.62 -0.4l.61 4.2l.61 -11.1l.62 3.5l.61 0.1l.62 -4.6l.61 1.8l.61 -0.3l.62 5.4l.61 -0.2l.62 3.3l.61 -6.1l.61 -3.4l.62 6.5l.61 -0.1l.62 1.1l.61 2.1l.61 -6.4l.62 4.9l.61 -6.3l.62 4.1l.61 1.9l.61 -2.8l.62 1.2l.61 -5.6l.62 2.6l.61 2.8l.61 -4.7l.62 1.2l.61 11.5l.62 -7.6l.61 -3.8l.61 -0.7l.62 8.4l.61 -14.7l.62 8.5l.61 3.3l.61 -4.2l.62 3.8l.61 -5.6l.62 3.6l.61 0.1l.61 -0.1l.62 0.4l.61 -0.5l.62 3.7l.61 -4.9l.61 -1.2l.62 1.0l.61 -0.2l.62 -4.3l.61 -1.5l.61 1.9l.62 5.6l.61 -3.5l.62 0.8l.61 11.3l.61 -6.2l.62 -4.8l.61 -1.7l.62 6.9l.61 -7.8l.61 6.9l.62 -2.5l.61 2.5l.62 -7.6l.61 5.4l.61 -9.9l.62 5.4l.61 4.1l.62 -1.8l.61 -9.4l.61 8.5l.62 -1.4l.61 -2.5l.62 -3.0l.61 0.8l.61 -1.9l.62 4.6l.61 -2.8l.62 1.0l.61 -2.7l.61 -8.7l.62 3.6l.61 5.7l.62 -14.2l.61 3.0l.61 -6.4l.62 -3.2l.61 1.4l.62 -0.4l.61 -3.9l.61 -4.8l.62 -1.8l.61 -14.4l.62 6.0l.61 -5.7l.61 -6.3l.62 -2.8l.61 -6.8l.62 6.1l.61 -10.1l.61 -4.1l.62 6.4l.61 -1.6l.62 4.0l.61 9.3l.61 -4.0l.62 4.7l.61 12.7l.62 -11.4l.61 11.3l.61 7.0l.62 5.1l.61 6.3l.62 -8.2l.61 8.0l.61 0.0l.62 1.2l.61 1.3l.62 -0.6l.61 8.6l.61 3.2l.62 -5.2l.61 8.0l.62 -3.7l.61 -0.7l.61 -5.0l.62 14.3l.61 -0.8l.62 -3.3l.61 0.1l.61 -3.0l.62 6.8l.61 -2.0l.62 2.2l.61 -1.4l.61 -5.9l.62 -0.8l.61 6.7l.62 -8.2l.61 6.5l.61 1.6l.62 -9.0l.61 6.0l.62 -3.6l.61 0.3l.61 -6.2l.62 0.3l.61 -0.7l.62 2.8l.61 -7.1l.61 -4.1l.62 -10.5l.61 2.7l.62 -8.1l.61 -1.6l.61 -2.6l.62 -1.0l.61 -5.1l.62 -4.7l.61 -3.1l.61 4.9l.62 -9.6l.61 5.1l.62 7.9l.61 -3.6l.61 7.9l.62 4.3l.61 8.7l.62 0.7l.61 -6.9l.61 10.6l.62 4.9l.61 5.5l.62 1.5l.61 8.5l.61 -0.4l.62 -6.1l.61 4.1l.62 -3.3l.61 15.4l.61 -5.3l.62 1.2l.61 -4.0l.62 5.1l.61 3.9l.61 -2.2l.62 0.7l.61 -0.1l.62 9.7l.61 -8.5l.61 -2.7l.62 3.7l.61 0.9l.62 1.3l.61 -0.3l.61 -2.8l.62 3.5l.61 2.3l.62 -6.0l.61 11.9l.61 -0.8l.62 -12.0l.61 5.1l.62 5.0l.61 1.2l.61 1.7l.62 -12.5l.61 2.6l.62 2.1l.61 3.7l.61 -5.7l.62 5.2l.61 -0.1l.62 0.7l.61 -7.3l.61 4.8l.62 -1.0l.61 -2.5l.62 5.2l.61 -6.7l.61 4.9l.62 -8.7l.61 6.7l.62 -1.6l.61 -10.3l.61 3.2l.62 -0.6l.61 -4.5l.62 7.2l.61 0.6l.61 -3.7l.62 5.1l.61 4.5l.62 -2.2l.61 -0.5l.61 9.4l.62 -8.1l.61 5.5l.62 3.4l.61 -0.6l.61 -8.6l.62 5.6l.61 1.0l.62 -0.0l.61 3.0l.61 -0.1l.62 -1.2l.61 0.6l.62 2.7l.61 0.9l.61 -10.6l.62 14.0l.61 -9.2l.62 4.6l.61 -8.1l.61 3.8l.62 -2.4l.61 8.0l.62 -0.6l.61 -2.9l.61 -0.6l.62 2.0l.61 -4.5l.62 1.2l.61 -0.5l.61 5.5l.62 -2.7l.61 -4.4l.62 5.6l.61 0.6l.61 3.0l.62 -6.6l.61 3.3l.62 5.7l.61 -8.1l.61 -0.1l.62 3.0l.61 -3.4l.62 1.7l.61 -1.6l.61 -1.0l.62 5.7l.61 -4.2l.62 -2.1l.61 2.4l.61 0.5l.62 1.6l.61 2.1l.62 2.9l.61 -10.1l.61 3.3l.62 -5.3l.61 6.9l.62 1.0l.61 -3.9l.61 -0.9l.62 -0.3l.61 -1.7l.62 7.2l.61 4.4l.61 -10.3l.62 9.4l.61 -5.9l.62 -4.3l.61 6.6l.61 0.6l.62 -1.2l.61 -2.2l.62 6.5l.61 -6.5l.61 3.1l.62 0.0l.61 -5.2l.62 -3.2l.61 0.4l.61 4.5l.62 2.6l.61 -7.2l.62 3.6l.61 7.6l.61 -11.2l.62 7.6l.61 -0.4l.62 1.5l.61 -7.6l.61 6.1l.62 -5.8l.61 9.1l.62 -7.4l.61 4.2l.61 -3.9l.62 3.1l.61 -5.6l.62 6.1l.61 1.1l.61 -2.1l.62 5.5l.61 -4.2l.62 1.4l.61 -0.9l.61 4.6l.62 -8.5l.61 1.3l.62 0.2l.61 2.8l.61 -1.2l.62 1.9l.61 -1.8l.62 -2.7l.61 1.5l.61 1.7l.62 -9.2l.61 12.4l.62 -6.6l.61 0.7l.61 2.1l.62 -1.7l.61 -4.1l.62 4.1l.61 5.5l.61 -1.2l.62 0.7l.61 -6.1l.62 1.1l.61 4.3l.61 1.5l.62 -5.0l.61 -3.3l.62 -3.3l.61 11.3l.61 -10.0l.62 6.6l.61 1.5l.62 8.0l.61 -10.4l.61 -1.1l.62 1.9l.61 0.2l.62 2.7l.61 -2.2l.61 -5.0l.62 -4.7l.61 8.1l.62 -3.3l.61 7.0l.61 -9.4l.62 5.1l.61 -3.3l.62 -0.6l.61 8.5l.61 -5.2l.62 -1.4l.61 3.0l.62 -5.4l.61 1.2l.61 -1.2l.62 8.8l.61 -5.9l.62 0.7l.61 1.3l.61 -4.8l.62 -0.3l.61 -5.7l.62 6.9l.61 -1.3l.61 -2.9l.62 5.0l.61 -11.2l.62 7.0l.61 -7.1l.61 -0.1l.62 2.4l.61 4.6l.62 -10.1l.61 -0.4l.61 -1.9l.62 10.5l.61 -6.5l.62 -1.6l.61 4.9l.61 -7.7l.62 -9.8l.61 5.1l.62 -3.4l.61 11.5l.61 -13.2l.62 6.3l.61 -2.9l.62 0.6l.61 2.3l.61 0.1l.62 -1.1l.61 -1.0l.62 3.3l.61 -0.3l.61 1.7l.62 4.9l.61 0.2l.62 3.5l.61 -1.5l.61 8.8l.62 -8.5l.61 -0.0l.62 8.1l.61 -5.3l.61 3.7l.62 3.7l.61 -3.1l.62 -0.3l.61 5.2l.61 -1.7l.62 -2.6l.61 -1.8l.62 3.2l.61 -4.0l.61 3.0l.62 -0.5l.61 5.1l.62 1.9l.61 -4.6l.61 0.9l.62 -2.1l.61 -0.8l.62 3.5l.61 3.5l.61 -0.1l.62 0.5l.61 -2.8l.62 -8.3l.61 12.6l.61 1.5l.62 -1.3l.61 0.0l.62 0.8l.61 5.5l.61 -8.0l.62 4.3l.61 -2.5l.62 -0.3l.61 -2.7l.61 -0.7l.62 -2.5l.61 5.8l.62 -3.0l.61 -2.9l.61 1.5l.62 -1.4l.61 9.5l.62 -6.2l.61 1.3l.61 -4.5l.62 0.7l.61 7.1l.62 -4.3l.61 1.6l.61 5.5l.62 0.9l.61 -4.7l.62 -0.7l.61 -0.8l.61 -1.7l.62 7.8l.61 -10.9l.62 3.8l.61 -6.1l.61 2.2l.62 5.7l.61 0.2l.62 -0.4l.61 -2.2l.61 -1.2l.62 0.6l.61 0.5l.62 5.0l.61 1.3l.61 -3.4l.62 -3.3l.61 -1.3l.62 4.2l.61 -1.8l.61 -5.3l.62 10.7l.61 -4.6l.62 -1.0l.61 -1.8l.61 -0.0l.62 6.0l.61 -6.2l.62 3.5l.61 1.8l.61 4.1l.62 -4.1l.61 -2.1l.62 -1.4l.61 4.4l.61 0.5l.62 -4.8l.61 3.5l.62 -2.5l.61 -4.9l.61 2.1l.62 6.1l.61 2.1l.62 -2.5l.61 -2.9l.61 -1.7l.62 4.2l.61 -0.7l.62 -6.5l.61 7.6l.61 -4.5l.62 4.6l.61 -0.4l.62 0.7l.61 1.1l.61 -1.2l.62 -5.8l.61 0.1l.62 6.9l.61 -1.8l.61 -6.9l.62 -1.4l.61 9.7l.62 4.5l.61 -4.7l.61 -3.5l.62 1.7l.61 -10.0l.62 5.8l.61 6.8l.61 -0.5l.62 -10.0l.61 11.1l.62 -2.2l.61 1.4l.61 -3.8l.62 0.7l.61 -3.6l.62 4.7l.61 2.0l.61 -6.2l.62 4.4l.61 -2.9l.62 5.2l.61 -0.2l.61 -11.1l.62 9.4l.61 1.9l.62 -5.2l.61 1.1l.61 0.3l.62 -3.3l.61 3.4l.62 5.6l.61 -3.5l.61 3.5l.62 -1.8l.61 0.7l.62 -3.5l.61 2.1l.61 4.2l.62 -1.8l.61 -3.8l.62 -3.4l.61 -0.7l.61 3.9l.62 0.6l.61 -7.5l.62 6.9l.61 0.4l.61 -0.1l.62 -2.9l.61 9.6l.62 -4.8l.61 -7.4l.61 2.2l.62 5.0l.61 -0.9l.62 -1.3l.61 -0.5l.61 -0.6l.62 -0.8l.61 -1.9l.62 5.3l.61 -11.1l.61 6.8l.62 6.5l.61 -6.7l.62 -1.3l.61 10.2l.61 -2.8l.62 -3.9l.61 -1.5l.62 1.2l.61 -0.4l.61 0.4l.62 -1.7l.61 4.3l.62 -3.6l.61 -4.2l.61 1.7l.62 4.3l.61 -3.4l.62 -4.8l.61 13.2l.61 -3.3l.62 -3.2l.61 -0.2l.62 3.4l.61 2.9l.61 -6.6l.62 3.4l.61 -3.4l.62 3.1l.61 -4.8l.61 -2.3l.62 6.3l.61 -0.5l.62 2.6l.61 -4.6l.61 6.8l.62 -4.2l.61 4.7l.62 -6.2l.61 6.1l.61 -5.2l.62 0.7l.61 2.7l.62 -9.0l.61 2.3l.61 9.6l.62 -11.1l.61 3.4l.62 3.4l.61 3.0l.61 -6.5l.62 2.1l.61 -4.1l.62 2.4l.61 4.7l.61 -2.4l.62 -1.2l.61 1.5l.62 -0.9l.61 0.1l.61 -1.8l.62 -2.1l.61 5.5l.62 -6.1l.61 7.2l.61 3.6l.62 -2.0l.61 2.6l.62 -11.1l.61 4.2l.61 -3.6l.62 0.3l.61 -3.3l.62 1.7l.61 6.8l.61 -0.6l.62 1.6l.61 -0.3l.62 -1.1l.61 -5.3l.61 2.2l.62 2.8l.61 1.6l.62 -5.4l.61 -0.5l.61 0.1l.62 6.7l.61 -3.5l.62 -3.0l.61 -1.6l.61 3.9l.62 -7.1l.61 4.7l.62 -1.3l.61 -0.2l.61 2.5l.62 0.5l.61 8.5l.62 -9.9l.61 1.8l.61 -5.2l.62 -3.1l.61 9.0l.62 2.4l.61 -10.2l.61 2.8l.62 3.5l.61 -3.8l.62 -8.8l.61 10.9l.61 -4.4l.62 2.3l.61 -6.4l.62 5.6l.61 -0.2l.61 -6.8l.62 3.3l.61 -4.8l.62 -0.5l.61 -2.4l.61 0.5l.62 -2.0l.61 5.3l.62 -6.2l.61 -4.4l.61 7.4l.62 -4.3l.61 0.1l.62 -5.2l.61 1.2l.61 -4.4l.62 -4.7l.61 2.3l.62 -1.4l.61 -1.6l.61 1.1l.62 -11.1l.61 6.1l.62 -5.4l.61 0.6l.61 1.6l.62 -2.5l.61 -3.7l.62 4.6l.61 -3.8l.61 3.2l.62 0.7l.61 -6.4l.62 -3.1l.61 4.4l.61 2.8l.62 -1.9l.61 -5.7l.62 -1.9l.61 2.9l.61 0.1l.62 6.1l.61 -2.1l.62 3.1l.61 -3.7l.61 6.7l.62 -6.4l.61 2.0l.62 -3.8l.61 3.2l.61 2.3l.62 -1.3l.61 1.8l.62 -7.2l.61 4.0l.61 4.9l.62 -5.4l.61 -1.3l.62 0.1l.61 -0.6l.61 3.2l.62 5.5l.61 -2.6l.62 -0.8l.61 -1.7l.61 -0.0l.62 14.4l.61 -9.1l.62 3.6l.61 -0.6l.61 4.0l.62 -0.6l.61 3.6l.62 6.4l.61 -6.2l.61 6.1l.62 -0.6l.61 4.3l.62 -3.4l.61 5.2l.61 -3.4l.62 -1.6l.61 3.0l.62 2.5l.61 0.5l.61 3.8l.62 5.8l.61 -6.5l.62 6.2l.61 -0.2l.61 -2.0l.62 0.0l.61 5.2l.62 0.8l.61 -2.1l.61 1.2l.62 0.9l.61 -3.7l.62 5.0l.61 1.1l.61 5.0l.62 -9.4l.61 1.6l.62 3.4l.61 -1.9l.61 0.8l.62 1.6l.61 -0.8l.62 1.1l.61 1.6l.61 -6.3l.62 7.1l.61 -8.8l.62 12.7l.61 -2.4l.61 -4.7"/>
<path d="M187.0 707.2l.61 -3.5l.62 8.1l.61 5.1l.62 5.4l.61 -7.1l.61 -4.4l.62 -1.4l.61 11.3l.62 6.7l.61 -9.5l.61 -10.5l.62 2.2l.61 18.7l.62 -9.7l.61 -13.6l.61 12.1l.62 -7.4l.61 4.1l.62 1.3l.61 -1.3l.61 9.4l.62 -4.1l.61 -3.5l.62 7.5l.61 3.3l.61 -17.4l.62 10.2l.61 -4.9l.62 6.1l.61 -7.7l.61 9.7l.62 -0.1l.61 -1.6l.62 -5.0l.61 5.0l.61 -4.7l.62 -1.6l.61 11.7l.62 -9.3l.61 16.6l.61 -2.9l.62 -19.1l.61 16.5l.62 -9.5l.61 8.5l.61 0.3l.62 -14.2l.61 12.9l.62 0.1l.61 9.1l.61 -15.1l.62 14.1l.61 -12.8l.62 5.8l.61 -3.4l.61 16.7l.62 -6.0l.61 13.7l.62 -12.5l.61 1.8l.61 0.3l.62 -10.1l.61 4.2l.62 10.5l.61 -12.2l.61 4.5l.62 -1.2l.61 4.8l.62 -6.6l.61 1.8l.61 3.2l.62 -0.7l.61 -6.6l.62 12.9l.61 -15.3l.61 1.0l.62 -0.2l.61 16.3l.62 -9.1l.61 -4.0l.61 -0.9l.62 11.5l.61 -10.2l.62 -1.2l.61 13.7l.61 -12.5l.62 6.5l.61 2.6l.62 -2.8l.61 3.1l.61 10.3l.62 -12.9l.61 -4.9l.62 -3.8l.61 12.0l.61 -0.8l.62 4.8l.61 -4.9l.62 0.3l.61 -1.4l.61 1.7l.62 5.2l.61 -3.5l.62 3.8l.61 13.1l.61 -9.8l.62 -14.2l.61 23.8l.62 -9.5l.61 -8.8l.61 13.5l.62 -6.0l.61 -4.2l.62 0.2l.61 -2.2l.61 7.8l.62 7.5l.61 -9.5l.62 5.6l.61 10.7l.61 -21.6l.62 10.8l.61 -3.7l.62 -5.0l.61 0.6l.61 7.5l.62 3.5l.61 -6.5l.62 4.5l.61 5.0l.61 -2.6l.62 4.3l.61 -2.5l.62 0.5l.61 9.8l.61 -8.2l.62 -3.1l.61 4.4l.62 -11.2l.61 4.5l.61 8.3l.62 -0.8l.61 6.8l.62 -10.5l.61 -10.1l.61 24.4l.62 -5.7l.61 -14.8l.62 17.5l.61 -9.1l.61 -12.7l.62 10.2l.61 -0.3l.62 15.2l.61 -16.5l.61 4.2l.62 0.2l.61 -0.4l.62 -3.4l.61 8.3l.61 6.4l.62 -2.8l.61 -10.6l.62 -1.2l.61 9.3l.61 -5.5l.62 0.9l.61 -7.0l.62 25.9l.61 -6.9l.61 -13.0l.62 13.6l.61 3.5l.62 -25.9l.61 13.3l.61 1.4l.62 7.7l.61 -5.1l.62 -0.4l.61 1.6l.61 13.7l.62 2.5l.61 -18.5l.62 -2.5l.61 25.8l.61 -25.5l.62 3.2l.61 4.6l.62 3.5l.61 4.2l.61 -4.2l.62 -8.5l.61 10.0l.62 -1.5l.61 11.7l.61 -12.9l.62 -9.0l.61 2.4l.62 17.8l.61 -13.7l.61 -10.7l.62 11.0l.61 4.4l.62 8.6l.61 -15.2l.61 12.1l.62 1.2l.61 -10.2l.62 3.8l.61 14.0l.61 -0.1l.62 -5.8l.61 -3.4l.62 5.9l.61 -8.7l.61 0.6l.62 -5.2l.61 6.3l.62 -0.3l.61 20.2l.61 -20.6l.62 10.5l.61 0.6l.62 -10.3l.61 9.7l.61 -23.2l.62 16.1l.61 5.5l.62 -22.5l.61 8.9l.61 15.6l.62 -8.9l.61 -5.7l.62 5.3l.61 -1.0l.61 9.0l.62 -1.6l.61 -5.0l.62 -2.5l.61 4.5l.61 9.8l.62 -6.6l.61 2.2l.62 -5.3l.61 -7.8l.61 4.3l.62 9.6l.61 -3.6l.62 -6.8l.61 -4.8l.61 12.2l.62 -2.9l.61 0.1l.62 0.3l.61 4.4l.61 0.3l.62 4.8l.61 -0.1l.62 3.0l.61 -3.5l.61 -7.7l.62 2.1l.61 4.0l.62 -5.4l.61 6.1l.61 4.4l.62 -13.5l.61 -6.5l.62 20.7l.61 -8.0l.61 5.0l.62 -14.0l.61 21.4l.62 -6.7l.61 -5.9l.61 -1.4l.62 3.4l.61 -1.8l.62 -0.6l.61 -5.6l.61 16.6l.62 -8.8l.61 0.9l.62 0.3l.61 -16.8l.61 20.1l.62 -5.8l.61 0.5l.62 2.6l.61 -7.0l.61 12.7l.62 -10.5l.61 -1.3l.62 0.4l.61 7.3l.61 4.2l.62 -9.1l.61 -6.2l.62 18.0l.61 -14.6l.61 15.8l.62 -8.4l.61 -4.3l.62 0.6l.61 7.7l.61 3.2l.62 -7.4l.61 8.1l.62 8.1l.61 -15.7l.61 -6.3l.62 0.8l.61 -2.1l.62 5.4l.61 -0.4l.61 -4.0l.62 13.0l.61 -21.5l.62 9.1l.61 23.2l.61 -6.6l.62 -3.4l.61 -0.3l.62 9.3l.61 -8.4l.61 -3.0l.62 -8.8l.61 8.1l.62 -4.3l.61 0.3l.61 0.1l.62 4.8l.61 -1.8l.62 8.4l.61 -15.0l.61 8.2l.62 14.1l.61 -12.4l.62 8.1l.61 -0.3l.61 1.4l.62 -3.9l.61 -14.4l.62 7.8l.61 -0.7l.61 -7.9l.62 7.6l.61 -5.3l.62 -2.8l.61 13.0l.61 -1.6l.62 -4.4l.61 -1.7l.62 2.9l.61 1.1l.61 -0.0l.62 2.5l.61 -2.6l.62 5.7l.61 1.0l.61 -1.1l.62 -7.0l.61 0.4l.62 7.2l.61 -4.3l.61 1.1l.62 -16.8l.61 -1.4l.62 20.8l.61 -0.1l.61 7.3l.62 -4.6l.61 -3.5l.62 -1.4l.61 -9.9l.61 15.8l.62 -10.2l.61 7.6l.62 -2.1l.61 0.4l.61 4.3l.62 -9.5l.61 0.6l.62 -3.2l.61 3.2l.61 14.0l.62 -13.9l.61 10.5l.62 -2.5l.61 -0.7l.61 0.5l.62 -12.5l.61 9.5l.62 8.2l.61 -15.7l.61 4.4l.62 -4.4l.61 6.8l.62 -9.6l.61 18.4l.61 -13.7l.62 -8.0l.61 22.7l.62 -5.6l.61 -3.2l.61 0.1l.62 -6.2l.61 0.9l.62 6.4l.61 1.2l.61 0.1l.62 -5.0l.61 -4.7l.62 1.8l.61 8.8l.61 2.2l.62 -12.2l.61 -1.0l.62 11.7l.61 -3.6l.61 -0.3l.62 -13.8l.61 6.4l.62 -1.1l.61 4.9l.61 -13.0l.62 20.1l.61 -6.7l.62 0.9l.61 -11.1l.61 7.8l.62 9.2l.61 -19.9l.62 12.7l.61 2.6l.61 -9.5l.62 10.2l.61 -7.9l.62 10.6l.61 -4.9l.61 -2.1l.62 12.0l.61 -8.0l.62 3.1l.61 -17.0l.61 3.6l.62 10.0l.61 0.4l.62 -6.6l.61 5.6l.61 -12.6l.62 8.5l.61 -9.3l.62 10.0l.61 -5.7l.61 -1.2l.62 4.7l.61 11.8l.62 -19.3l.61 2.7l.61 11.2l.62 -10.2l.61 14.8l.62 -10.7l.61 -1.0l.61 1.7l.62 9.3l.61 -7.5l.62 -1.1l.61 -1.9l.61 -12.5l.62 4.5l.61 16.0l.62 -4.7l.61 -2.3l.61 0.8l.62 -8.2l.61 5.9l.62 -8.6l.61 8.7l.61 -7.7l.62 3.3l.61 4.4l.62 -5.5l.61 6.5l.61 -1.5l.62 -0.8l.61 6.4l.62 -19.2l.61 -1.0l.61 14.9l.62 2.1l.61 7.1l.62 -8.7l.61 0.4l.61 -11.9l.62 11.0l.61 -0.7l.62 -12.0l.61 0.9l.61 5.2l.62 2.5l.61 -22.3l.62 20.5l.61 0.9l.61 -3.0l.62 2.8l.61 1.1l.62 -10.3l.61 9.6l.61 -4.8l.62 -5.0l.61 7.7l.62 8.6l.61 -20.5l.61 -1.6l.62 -0.3l.61 24.7l.62 -15.6l.61 1.0l.61 -5.3l.62 -1.4l.61 -7.9l.62 14.9l.61 0.2l.61 -15.9l.62 6.1l.61 1.6l.62 4.5l.61 1.4l.61 5.6l.62 1.1l.61 -2.7l.62 1.3l.61 -18.4l.61 3.5l.62 11.2l.61 -6.9l.62 -2.9l.61 -15.3l.61 -0.4l.62 17.4l.61 -4.2l.62 -6.1l.61 -2.5l.61 -11.5l.62 13.3l.61 2.7l.62 2.0l.61 -14.9l.61 -5.2l.62 -10.7l.61 13.7l.62 -0.9l.61 -24.1l.61 1.0l.62 -8.9l.61 -13.8l.62 -26.1l.61 8.1l.61 -2.7l.62 -31.6l.61 -8.5l.62 -37.6l.61 25.6l.61 -24.4l.62 -21.9l.61 -20.6l.62 -20.3l.61 -10.3l.61 -14.8l.62 -8.5l.61 -2.7l.62 1.7l.61 18.1l.61 -17.9l.62 28.7l.61 7.4l.62 12.5l.61 6.5l.61 44.8l.62 2.6l.61 18.4l.62 26.2l.61 -0.2l.61 22.8l.62 10.6l.61 17.8l.62 10.7l.61 -7.5l.61 21.7l.62 -1.9l.61 7.3l.62 2.3l.61 11.8l.61 -11.3l.62 14.4l.61 9.6l.62 -8.1l.61 19.0l.61 -17.9l.62 8.7l.61 -3.3l.62 0.5l.61 -2.1l.61 5.4l.62 4.5l.61 -4.1l.62 12.6l.61 5.3l.61 -20.1l.62 16.9l.61 -3.7l.62 1.1l.61 15.6l.61 -7.9l.62 -5.4l.61 -0.5l.62 -15.2l.61 20.2l.61 -9.7l.62 6.5l.61 -0.1l.62 6.1l.61 7.4l.61 -6.6l.62 2.2l.61 -9.7l.62 4.9l.61 2.3l.61 -14.3l.62 23.1l.61 -17.8l.62 -3.5l.61 19.3l.61 3.3l.62 -18.2l.61 0.8l.62 24.4l.61 -19.3l.61 -13.5l.62 9.1l.61 17.1l.62 -8.6l.61 0.7l.61 3.2l.62 -3.4l.61 -6.4l.62 -8.0l.61 13.3l.61 -10.0l.62 7.0l.61 11.7l.62 -7.7l.61 -3.0l.61 0.1l.62 4.4l.61 1.3l.62 -14.2l.61 9.6l.61 9.9l.62 -6.1l.61 -9.6l.62 0.6l.61 -8.7l.61 8.2l.62 15.3l.61 -10.6l.62 -4.9l.61 1.8l.61 3.0l.62 0.1l.61 -1.5l.62 -2.6l.61 9.0l.61 5.7l.62 -13.2l.61 0.2l.62 11.0l.61 -16.7l.61 5.5l.62 1.4l.61 3.5l.62 -2.7l.61 -3.9l.61 7.6l.62 -9.4l.61 -3.4l.62 -1.8l.61 17.5l.61 -15.5l.62 13.7l.61 1.4l.62 0.9l.61 -6.1l.61 -2.3l.62 4.0l.61 -4.2l.62 -4.3l.61 15.9l.61 -13.4l.62 16.8l.61 -7.9l.62 -6.1l.61 5.6l.61 5.0l.62 -16.2l.61 2.8l.62 -0.7l.61 7.6l.61 1.5l.62 -2.3l.61 -4.7l.62 1.2l.61 10.7l.61 -0.4l.62 -6.1l.61 -8.9l.62 12.0l.61 -2.1l.61 -0.2l.62 9.2l.61 -5.6l.62 -11.1l.61 0.1l.61 14.5l.62 -7.3l.61 4.3l.62 -6.2l.61 -5.1l.61 7.8l.62 8.0l.61 -7.5l.62 -9.0l.61 5.1l.61 -1.1l.62 4.1l.61 5.3l.62 5.8l.61 -10.6l.61 -4.0l.62 3.1l.61 -0.3l.62 -2.7l.61 2.7l.61 -0.1l.62 -7.2l.61 10.5l.62 -5.5l.61 -3.8l.61 9.0l.62 -5.9l.61 13.5l.62 -7.7l.61 -2.4l.61 -5.1l.62 2.1l.61 7.7l.62 -9.4l.61 8.8l.61 -17.4l.62 14.0l.61 3.7l.62 -2.9l.61 -2.1l.61 6.2l.62 -11.3l.61 -0.8l.62 6.6l.61 6.6l.61 -4.6l.62 -3.8l.61 3.0l.62 0.8l.61 -10.1l.61 -9.5l.62 10.8l.61 -2.8l.62 5.5l.61 -3.8l.61 2.1l.62 7.8l.61 -2.0l.62 -0.8l.61 10.2l.61 -12.8l.62 0.5l.61 9.9l.62 -14.2l.61 -3.1l.61 17.6l.62 -5.8l.61 1.6l.62 0.2l.61 1.6l.61 -8.2l.62 2.3l.61 -6.2l.62 7.5l.61 0.6l.61 -4.1l.62 6.7l.61 13.6l.62 -24.4l.61 11.8l.61 0.7l.62 0.7l.61 -11.1l.62 11.9l.61 -3.2l.61 -4.7l.62 -1.3l.61 3.5l.62 4.1l.61 -0.3l.61 8.4l.62 -15.7l.61 5.8l.62 -6.2l.61 7.2l.61 -3.9l.62 -4.3l.61 -4.3l.62 3.2l.61 6.0l.61 7.3l.62 -4.2l.61 -11.6l.62 4.1l.61 3.1l.61 -1.1l.62 1.1l.61 4.1l.62 -3.4l.61 -5.5l.61 -7.3l.62 9.3l.61 -8.0l.62 8.9l.61 2.8l.61 -9.8l.62 6.9l.61 -1.2l.62 13.1l.61 -8.5l.61 -13.8l.62 13.6l.61 -0.2l.62 -3.6l.61 -1.0l.61 5.7l.62 0.3l.61 -1.3l.62 -8.4l.61 4.3l.61 -7.6l.62 0.3l.61 5.5l.62 -2.9l.61 3.7l.61 17.0l.62 -11.7l.61 -8.1l.62 -7.5l.61 7.7l.61 -3.5l.62 -4.5l.61 17.1l.62 -7.1l.61 5.3l.61 15.5l.62 -16.5l.61 -1.0l.62 1.3l.61 -3.6l.61 -3.4l.62 3.6l.61 7.8l.62 -8.3l.61 -6.5l.61 0.6l.62 1.2l.61 6.0l.62 2.7l.61 -0.2l.61 4.1l.62 -8.3l.61 6.0l.62 -3.2l.61 2.1l.61 -15.2l.62 18.1l.61 -16.7l.62 2.2l.61 11.0l.61 -7.2l.62 12.5l.61 -9.9l.62 -7.5l.61 6.6l.61 -3.8l.62 11.2l.61 -0.1l.62 -6.0l.61 -7.6l.61 2.2l.62 5.0l.61 -12.2l.62 -1.1l.61 8.9l.61 -2.0l.62 -7.5l.61 -1.9l.62 -12.4l.61 17.5l.61 -10.6l.62 -11.3l.61 -1.3l.62 -2.1l.61 13.0l.61 -11.4l.62 -19.2l.61 16.0l.62 -10.4l.61 -24.9l.61 -20.7l.62 17.2l.61 -22.6l.62 -8.2l.61 -15.7l.61 0.3l.62 -12.6l.61 -19.9l.62 -22.2l.61 -10.8l.61 -10.0l.62 -27.8l.61 14.3l.62 -16.3l.61 4.4l.61 2.9l.62 13.5l.61 11.8l.62 21.7l.61 -5.6l.61 10.7l.62 23.1l.61 8.6l.62 25.8l.61 0.3l.61 19.5l.62 17.2l.61 10.6l.62 3.2l.61 16.7l.61 6.3l.62 -13.8l.61 19.7l.62 4.0l.61 1.4l.61 1.9l.62 7.9l.61 5.3l.62 2.1l.61 9.2l.61 -0.1l.62 -7.6l.61 0.8l.62 11.3l.61 -7.7l.61 6.5l.62 3.1l.61 4.4l.62 -1.9l.61 6.4l.61 -10.2l.62 7.5l.61 -6.9l.62 5.7l.61 0.4l.61 -5.4l.62 -8.9l.61 21.0l.62 -2.8l.61 -0.7l.61 -4.2l.62 2.5l.61 5.0l.62 -2.0l.61 6.8l.61 -5.4l.62 -4.8l.61 8.4l.62 -6.6l.61 5.1l.61 -10.9l.62 8.5l.61 5.3l.62 -6.3l.61 3.7l.61 3.7l.62 -2.5l.61 9.7l.62 -11.0l.61 0.7l.61 0.4l.62 -9.7l.61 2.7l.62 11.6l.61 -4.5l.61 9.7l.62 -7.8l.61 -0.3l.62 6.8l.61 -3.9l.61 7.5l.62 -14.3l.61 8.4l.62 1.5l.61 -0.5l.61 3.5l.62 -0.5l.61 -5.2l.62 -3.0l.61 8.5l.61 -4.8l.62 5.1l.61 2.4l.62 -6.1l.61 -5.8l.61 3.7l.62 5.9l.61 -5.4l.62 7.8l.61 -5.9l.61 0.6l.62 -3.9l.61 3.0l.62 6.6l.61 -7.6l.61 0.2l.62 -2.3l.61 8.5l.62 -12.3l.61 4.8l.61 8.5l.62 2.9l.61 -8.7l.62 6.4l.61 -15.7l.61 14.8l.62 -2.4l.61 -8.0l.62 -2.9l.61 6.9l.61 4.2l.62 0.7l.61 -1.3l.62 3.6l.61 -0.3l.61 -11.1l.62 5.4l.61 -0.6l.62 8.3l.61 -8.1l.61 8.1l.62 -4.8l.61 12.1l.62 -12.8l.61 0.3l.61 -0.5l.62 1.4l.61 12.2l.62 -15.6l.61 -2.0l.61 3.7l.62 4.6l.61 -8.8l.62 9.5l.61 -0.2l.61 -4.9l.62 -0.5l.61 -2.8l.62 2.7l.61 -2.8l.61 10.9l.62 2.0l.61 -10.2l.62 1.3l.61 -9.9l.61 7.3l.62 4.6l.61 -0.4l.62 -0.9l.61 3.8l.61 -4.0l.62 -2.6l.61 10.5l.62 -18.8l.61 4.0l.61 2.2l.62 -0.1l.61 -0.3l.62 2.8l.61 -2.7l.61 3.3l.62 3.3l.61 -3.1l.62 0.4l.61 -5.9l.61 -1.3l.62 4.2l.61 6.3l.62 -3.2l.61 3.4l.61 -0.8l.62 0.3l.61 -10.9l.62 10.5l.61 -3.2l.61 6.4l.62 -8.9l.61 -2.4l.62 -3.6l.61 0.3l.61 -11.6l.62 5.9l.61 -0.8l.62 3.4l.61 -12.0l.61 1.6l.62 6.5l.61 -17.3l.62 4.4l.61 -12.1l.61 -1.2l.62 -0.1l.61 -0.5l.62 -11.3l.61 -5.8l.61 13.5l.62 -11.2l.61 0.2l.62 -3.9l.61 -7.2l.61 -14.6l.62 -8.6l.61 -21.0l.62 -0.1l.61 -17.6l.61 -9.7l.62 2.1l.61 -16.8l.62 -8.4l.61 -8.7l.61 21.4l.62 16.4l.61 -3.1l.62 23.8l.61 8.3l.61 16.9l.62 11.9l.61 3.9l.62 17.4l.61 2.3l.61 25.5l.62 4.1l.61 -0.5l.62 5.6l.61 2.3l.61 3.7l.62 2.4l.61 -0.4l.62 2.1l.61 -4.9l.61 3.1l.62 3.2l.61 5.1l.62 -2.3l.61 12.6l.61 -10.5l.62 -0.5l.61 4.3l.62 3.1l.61 4.1l.61 -5.0l.62 -8.7l.61 1.4l.62 5.5l.61 -5.1l.61 2.0l.62 -5.1l.61 8.9l.62 -0.3l.61 -0.6l.61 -3.7l.62 -7.6l.61 2.9l.62 10.1l.61 2.9l.61 -17.1l.62 13.3l.61 9.0l.62 -0.4l.61 -6.9l.61 6.1l.62 -2.7l.61 -0.9l.62 6.9l.61 0.3l.61 -8.1l.62 -1.9l.61 -1.6l.62 -0.4l.61 13.8l.61 2.9l.62 -8.2l.61 4.3l.62 -8.5l.61 3.2l.61 5.0l.62 -2.9l.61 -1.7l.62 -7.9l.61 1.1l.61 5.2l.62 -0.6l.61 2.4l.62 -2.7l.61 2.1l.61 1.5l.62 2.3l.61 -2.2l.62 -3.0l.61 1.4l.61 5.9l.62 -5.4l.61 -3.7l.62 -0.2l.61 6.4l.61 1.4l.62 3.3l.61 -7.5l.62 8.3l.61 -8.4l.61 0.6l.62 -1.6l.61 5.4l.62 2.5l.61 -5.2l.61 -2.2l.62 -5.1l.61 8.3l.62 -2.4l.61 0.7l.61 -2.0l.62 -1.2l.61 2.2l.62 4.3l.61 2.5l.61 -4.7l.62 1.6l.61 -2.5l.62 0.4l.61 -6.0l.61 10.9l.62 -1.3l.61 4.1l.62 -9.9l.61 3.6l.61 -5.1l.62 5.6l.61 -1.7l.62 3.9l.61 -4.0l.61 3.9l.62 -5.5l.61 5.3l.62 -4.3l.61 -0.7l.61 2.6l.62 1.3l.61 -8.5l.62 -0.5l.61 8.2l.61 -1.1l.62 -9.5l.61 1.6l.62 4.5l.61 5.2l.61 -0.5l.62 3.8l.61 0.8l.62 5.7l.61 -18.1l.61 6.7l.62 5.3l.61 -11.1l.62 -0.7l.61 7.7l.61 4.3l.62 0.7l.61 -14.4l.62 2.7l.61 5.3l.61 -2.0l.62 4.1l.61 -0.9l.62 7.7l.61 -8.6l.61 1.1l.62 -0.5l.61 4.9l.62 -10.5l.61 7.1l.61 -5.4l.62 -3.1l.61 12.3l.62 -3.0l.61 4.1l.61 -5.4l.62 1.9l.61 -2.4l.62 2.0l.61 -4.6l.61 10.1l.62 -12.3l.61 12.3l.62 -9.0l.61 5.1l.61 -3.5l.62 1.5l.61 4.9l.62 -6.3l.61 -5.1l.61 5.6l.62 1.9l.61 -14.6l.62 16.2l.61 0.5l.61 -13.5l.62 7.7l.61 4.6l.62 -9.3l.61 3.5l.61 0.3l.62 4.3l.61 2.6l.62 -5.4l.61 0.5l.61 4.1l.62 -1.8l.61 -3.1l.62 6.8l.61 -12.9l.61 7.4l.62 -2.7l.61 -0.4l.62 3.3l.61 -0.7l.61 11.4l.62 -8.5l.61 -1.4l.62 6.1l.61 -3.0l.61 -13.5l.62 9.4l.61 2.9l.62 -6.3l.61 4.2l.61 -3.5l.62 3.9l.61 -9.4l.62 -1.5l.61 6.6l.61 3.6l.62 5.2l.61 -7.5l.62 -2.2l.61 7.8l.61 -4.1l.62 8.3l.61 -8.9l.62 -8.7l.61 5.4l.61 -0.7l.62 -2.0l.61 2.9l.62 0.4l.61 1.9l.61 -1.2l.62 4.5l.61 0.1l.62 -1.1l.61 0.1l.61 -9.7l.62 1.0l.61 3.7l.62 5.4l.61 -8.1l.61 5.0l.62 3.1l.61 8.2l.62 -8.1l.61 -3.7l.61 7.7l.62 -4.1l.61 -2.4l.62 6.6l.61 -9.4l.61 5.2l.62 -0.5l.61 3.8l.62 -9.5l.61 -0.7l.61 4.2l.62 0.6l.61 1.5l.62 -2.0l.61 3.8l.61 1.2l.62 -2.2l.61 -5.9l.62 10.3l.61 -12.6l.61 6.2l.62 5.1l.61 -7.1l.62 8.9l.61 2.9l.61 -1.7l.62 -5.4l.61 2.5l.62 -7.1l.61 4.2l.61 0.2l.62 -1.9l.61 0.2l.62 -1.9l.61 -8.5l.61 10.9l.62 -0.7l.61 7.8l.62 -6.7l.61 -3.5l.61 3.2l.62 -2.0l.61 -3.9l.62 -2.9l.61 -6.7l.61 5.9l.62 5.3l.61 -19.8l.62 1.3l.61 4.9l.61 -7.0l.62 -3.7l.61 -17.4l.62 1.0l.61 0.1l.61 -5.1l.62 -6.4l.61 -10.0l.62 6.7l.61 -9.1l.61 4.4l.62 3.3l.61 20.0l.62 -4.2l.61 8.5l.61 -6.2l.62 22.3l.61 1.4l.62 -6.6l.61 3.7l.61 19.0l.62 -10.3l.61 15.5l.62 -9.4l.61 -8.2l.61 18.2l.62 -1.9l.61 1.6l.62 -4.9l.61 2.0l.61 6.0l.62 -7.9l.61 -4.9l.62 13.7l.61 -6.7l.61 9.1l.62 -7.9l.61 0.5l.62 1.1l.61 -9.5l.61 16.5l.62 -8.1l.61 2.2l.62 7.8l.61 -6.0l.61 3.7l.62 -2.4l.61 2.1l.62 -2.1l.61 4.1l.61 -6.1l.62 3.2l.61 -5.2l.62 8.7l.61 -15.2l.61 10.9l.62 0.9l.61 -0.0l.62 -1.5l.61 6.2l.61 3.6l.62 -12.2l.61 -5.9l.62 3.8l.61 1.3l.61 3.1l.62 0.5l.61 5.2l.62 -6.8l.61 1.8l.61 0.8l.62 -4.5l.61 2.6l.62 14.0l.61 -12.8l.61 -3.9l.62 -5.5l.61 14.6l.62 -6.1l.61 -1.4l.61 14.0l.62 -4.6l.61 -14.1l.62 6.2l.61 6.1l.61 -0.7l.62 -8.7l.61 13.0l.62 0.4l.61 -13.3l.61 -2.9l.62 1.7l.61 9.3l.62 1.8l.61 -3.9l.61 -3.5l.62 2.3l.61 3.0l.62 -8.0l.61 -2.1l.61 7.2l.62 6.0l.61 -4.7l.62 0.1l.61 -3.9l.61 7.2l.62 -11.7l.61 7.3l.62 -2.3l.61 2.0l.61 -3.5l.62 7.5l.61 -3.6l.62 -2.3l.61 4.9l.61 -2.4l.62 -2.1l.61 -0.3l.62 6.1l.61 -7.6l.61 3.2l.62 -0.2l.61 2.6l.62 -2.2l.61 10.4l.61 -17.2l.62 10.3l.61 -2.7l.62 5.1l.61 -12.1l.61 12.6l.62 -11.5l.61 9.2l.62 -0.8l.61 -2.1l.61 -3.4l.62 -0.3l.61 4.1l.62 -3.8l.61 -5.2l.61 0.6l.62 11.5l.61 0.2l.62 -1.4l.61 -2.0l.61 1.5l.62 0.5l.61 -1.0l.62 -4.6l.61 0.3l.61 -1.8l.62 5.7l.61 -5.0l.62 3.7l.61 6.5l.61 -7.4l.62 5.9l.61 2.6l.62 -14.8l.61 1.7l.61 8.4l.62 -5.2l.61 5.5l.62 0.8l.61 -5.3l.61 5.8l.62 4.0l.61 -3.4l.62 -7.9l.61 3.2l.61 -1.7l.62 9.2l.61 -7.7l.62 -2.1l.61 3.2l.61 2.1l.62 -3.9l.61 2.1l.62 -0.4l.61 3.2l.61 1.0l.62 -3.0l.61 -3.2l.62 3.8l.61 -5.6l.61 8.6l.62 -3.2l.61 -0.4l.62 -11.5l.61 20.7l.61 -3.9l.62 -0.8l.61 -4.9l.62 2.4l.61 9.4l.61 -15.3l.62 6.2l.61 -0.6l.62 -1.9l.61 0.9l.61 -5.7l.62 7.0l.61 -8.4l.62 13.6l.61 -4.5l.61 -7.0l.62 -5.4l.61 9.5l.62 1.8l.61 -6.5l.61 11.5l.62 -6.0l.61 -3.1l.62 -4.0l.61 5.5l.61 -0.4l.62 3.7l.61 1.7l.62 -4.3l.61 1.8l.61 4.2l.62 -3.5l.61 -3.7l.62 3.7l.61 -4.8l.61 4.1l.62 -1.7l.61 -4.9l.62 7.3l.61 -2.2l.61 2.8l.62 -8.8l.61 10.4l.62 0.2l.61 -6.5l.61 1.1l.62 0.7l.61 -0.3l.62 3.6l.61 -6.6l.61 -1.9l.62 3.9l.61 9.2l.62 -9.8l.61 -2.7l.61 0.4l.62 4.6l.61 4.3l.62 -8.2l.61 3.9l.61 0.2l.62 1.0l.61 -1.3l.62 3.8l.61 -1.5l.61 -5.6l.62 13.0l.61 -16.2l.62 0.2l.61 10.0l.61 -3.6l.62 -1.9l.61 1.9l.62 2.1l.61 -4.7l.61 -1.0l.62 -1.7l.61 0.7l.62 0.3l.61 8.3l.61 -3.7l.62 1.1l.61 -4.8l.62 6.9l.61 -11.2l.61 8.7l.62 0.9l.61 -5.4l.62 -2.0l.61 6.6l.61 -5.3l.62 -0.8l.61 3.7l.62 -4.7l.61 4.2l.61 9.2l.62 -10.6l.61 5.7l.62 -8.4l.61 4.8l.61 -1.5l.62 0.4l.61 3.9l.62 5.9l.61 -9.8l.61 6.1l.62 -4.1l.61 1.6l.62 -5.2l.61 -1.1l.61 2.1l.62 -2.5l.61 3.2l.62 -4.6l.61 4.5l.61 0.6l.62 6.9l.61 -0.4l.62 -5.3l.61 -4.4l.61 4.6l.62 0.8l.61 -4.4l.62 -2.9l.61 -4.2l.61 7.4l.62 8.3l.61 -9.3l.62 2.4l.61 -0.3l.61 0.4l.62 1.1l.61 -12.2l.62 7.8l.61 2.1l.61 -2.2l.62 5.4l.61 -7.1l.62 5.3l.61 3.4l.61 -9.0l.62 0.9l.61 -1.7l.62 4.2l.61 -13.0l.61 2.6l.62 4.6l.61 4.7l.62 -1.7l.61 -6.7l.61 10.1l.62 -7.2l.61 -3.9l.62 4.4l.61 2.7l.61 -6.9l.62 -7.4l.61 3.3l.62 1.8l.61 2.7l.61 -10.1l.62 4.2l.61 -8.2l.62 3.9l.61 -8.6l.61 1.7l.62 -7.6l.61 -0.5l.62 -6.3l.61 -5.8l.61 11.2l.62 -5.1l.61 -9.1l.62 -10.6l.61 2.5l.61 -17.3l.62 -5.0l.61 -5.7l.62 -15.8l.61 -4.3l.61 -21.9l.62 -13.2l.61 -11.8l.62 -21.0l.61 -12.6l.61 -1.2l.62 -24.6l.61 9.0l.62 -9.2l.61 4.6l.61 0.5l.62 5.4l.61 15.9l.62 0.8l.61 12.6l.61 20.6l.62 3.2l.61 23.8l.62 10.1l.61 5.1l.61 6.8l.62 6.2l.61 30.5l.62 -9.6l.61 9.0l.61 17.4l.62 3.8l.61 3.9l.62 4.0l.61 1.6l.61 1.3l.62 4.0l.61 9.0l.62 4.7l.61 2.6l.61 -3.7l.62 -8.2l.61 14.0l.62 -1.6l.61 -10.0l.61 19.2l.62 -4.1l.61 -0.3l.62 2.0l.61 0.5l.61 1.3l.62 0.1l.61 0.3l.62 3.0l.61 -0.5l.61 9.5l.62 -9.3l.61 -2.4l.62 0.1l.61 4.6l.61 -0.7l.62 0.9l.61 -1.6l.62 0.4l.61 4.3l.61 2.9l.62 -4.1l.61 -1.6l.62 -4.3l.61 0.3l.61 5.3l.62 -1.1l.61 0.8l.62 -4.0l.61 4.3l.61 -7.5l.62 3.3l.61 1.8l.62 5.9l.61 -4.9l.61 -1.3l.62 5.2l.61 -1.4l.62 4.3l.61 -2.4l.61 -0.3l.62 -1.6l.61 3.6l.62 -5.7l.61 -3.3l.61 10.2l.62 -5.7l.61 2.3l.62 2.4l.61 1.7l.61 -16.2l.62 7.7l.61 9.5l.62 -12.1l.61 9.1l.61 -3.5l.62 -2.1l.61 3.2l.62 -6.5l.61 8.7l.61 3.2l.62 -10.7l.61 3.1l.62 7.8l.61 -3.5l.61 -2.8l.62 7.2l.61 -12.9l.62 5.8l.61 1.5l.61 -1.7l.62 4.6l.61 -10.3l.62 7.1l.61 -3.6l.61 8.2l.62 -0.7l.61 -7.5l.62 -1.6l.61 4.3l.61 -3.5l.62 1.1l.61 4.0l.62 -3.9l.61 9.3l.61 -7.5l.62 -2.7l.61 -2.7l.62 2.1l.61 6.5l.61 -2.7l.62 3.3l.61 -1.0l.62 -3.7l.61 -5.9l.61 1.7l.62 0.1l.61 -8.1l.62 7.5l.61 -6.9l.61 2.9l.62 -3.2l.61 3.3l.62 7.4l.61 -18.4l.61 3.4l.62 7.2l.61 -15.3l.62 1.0l.61 -1.6l.61 -0.3l.62 -11.0l.61 6.9l.62 -0.4l.61 7.6l.61 -13.4l.62 -2.9l.61 3.2l.62 -12.4l.61 14.7l.61 7.1l.62 -5.7l.61 1.9l.62 1.2l.61 4.0l.61 -4.0l.62 14.7l.61 -6.8l.62 2.1l.61 11.2l.61 -5.4l.62 -0.2l.61 10.5l.62 -4.9l.61 4.5l.61 -5.3l.62 -4.0l.61 9.2l.62 6.1l.61 -7.1l.61 4.1l.62 2.1l.61 -1.4l.62 -0.2l.61 3.3l.61 -1.9l.62 -2.7l.61 6.9l.62 -0.8l.61 -1.4l.61 1.6l.62 -13.5l.61 12.1l.62 -0.7l.61 -8.1l.61 16.7l.62 -6.8l.61 -3.1l.62 0.4l.61 2.7l.61 -1.0l.62 -6.3l.61 5.0l.62 3.5l.61 0.8l.61 1.1l.62 -7.7l.61 1.8l.62 4.2l.61 -3.9l.61 3.4l.62 -4.1l.61 5.7l.62 -2.0l.61 2.1l.61 -2.1l.62 -3.2l.61 -1.7l.62 5.1l.61 -2.6l.61 -3.4l.62 3.8l.61 5.4l.62 1.8l.61 -1.8l.61 2.4l.62 -6.9l.61 0.9l.62 -3.2l.61 0.8l.61 9.6l.62 -4.7l.61 0.9l.62 7.8l.61 -2.7l.61 -11.1l.62 7.4l.61 -6.9l.62 6.9l.61 -11.4l.61 3.8l.62 0.1l.61 11.6l.62 -15.1l.61 11.6l.61 -0.1l.62 -3.9l.61 2.9l.62 7.0l.61 -9.3l.61 -2.1l.62 6.5l.61 -2.3l.62 -7.7l.61 5.3l.61 0.4l.62 -5.8l.61 0.8l.62 1.1l.61 -2.1l.61 6.8l.62 -0.9l.61 -10.1l.62 7.2l.61 2.2l.61 -6.0l.62 4.2l.61 2.3l.62 -8.0l.61 5.5l.61 -8.3l.62 12.4l.61 -6.0l.62 -3.0l.61 -1.6l.61 0.6l.62 11.7l.61 -8.6l.62 1.0l.61 0.5l.61 -4.6l.62 9.0l.61 -13.3l.62 13.5l.61 -6.8l.61 3.0l.62 0.8l.61 1.9l.62 -8.7l.61 7.2l.61 -3.1l.62 -0.8l.61 -0.9l.62 5.2l.61 -3.1l.61 2.7l.62 -2.1l.61 -12.5l.62 7.0l.61 3.8l.61 -8.7l.62 -4.2l.61 -3.4l.62 16.9l.61 -13.1l.61 3.6l.62 -6.2l.61 5.5l.62 4.5l.61 -13.8l.61 5.4l.62 -3.2l.61 -4.8l.62 4.3l.61 4.3l.61 5.7l.62 0.9l.61 -4.7l.62 -6.1l.61 10.7l.61 -1.8l.62 0.9l.61 -3.8l.62 5.0l.61 9.6l.61 -1.1l.62 -0.2l.61 -1.8l.62 -3.7l.61 2.3l.61 1.1l.62 1.5l.61 -2.6l.62 -1.6l.61 8.4l.61 -5.7l.62 5.2l.61 -3.8l.62 3.6l.61 -0.4l.61 1.1l.62 -0.0l.61 -6.4l.62 -1.5l.61 5.4l.61 6.9l.62 -9.8l.61 -0.3l.62 12.9l.61 -15.1l.61 3.9l.62 0.7l.61 -1.0l.62 0.2l.61 6.9l.61 -3.4l.62 -0.0l.61 -7.2l.62 9.7l.61 -2.4l.61 -0.1l.62 2.7l.61 -1.9l.62 -1.4l.61 1.8l.61 -4.4l.62 -0.7l.61 -1.7l.62 9.1l.61 -6.3l.61 3.3l.62 3.6l.61 2.8l.62 -8.5l.61 2.1l.61 -0.3l.62 -5.4l.61 3.2l.62 12.9l.61 -11.2l.61 7.2l.62 -3.9l.61 3.9l.62 -1.7l.61 -4.3l.61 -5.7l.62 10.4l.61 -2.8l.62 -0.9l.61 1.5l.61 -6.5l.62 3.7l.61 -0.6l.62 -5.7l.61 1.1l.61 4.2l.62 -8.2l.61 11.5l.62 0.2l.61 -3.3l.61 1.4l.62 -8.2l.61 7.7l.62 2.3l.61 -1.0l.61 1.6l.62 -3.8l.61 8.0l.62 -6.1l.61 1.4l.61 1.2l.62 -7.2l.61 -1.4l.62 7.4l.61 -7.9l.61 2.5l.62 6.2l.61 -8.1l.62 0.4l.61 -1.0l.61 0.8l.62 11.3l.61 -5.2l.62 1.6l.61 -11.2l.61 -1.8l.62 4.8l.61 8.5l.62 0.5l.61 -12.2l.61 0.9l.62 9.2l.61 -1.5l.62 0.7l.61 0.8l.61 -6.5l.62 4.4l.61 -1.6l.62 5.9l.61 -6.0l.61 -6.2l.62 12.2l.61 2.1l.62 -3.2l.61 -5.1l.61 -2.4l.62 7.5l.61 -6.0l.62 4.1l.61 0.9l.61 -3.5l.62 -7.3l.61 9.6l.62 -5.8l.61 -2.2l.61 5.8l.62 0.6l.61 -0.9l.62 2.7l.61 -9.9l.61 9.6l.62 4.0l.61 -6.7l.62 -1.7l.61 1.2l.61 5.3l.62 -5.5l.61 -2.5l.62 -3.6l.61 12.0l.61 -0.1l.62 -5.6l.61 7.9l.62 -9.8l.61 4.2l.61 -8.1l.62 1.0l.61 3.7l.62 1.7l.61 0.3l.61 -6.2l.62 1.1l.61 1.3l.62 -1.0l.61 -0.3l.61 3.7l.62 0.9l.61 -12.4l.62 11.9l.61 -5.1l.61 -0.2l.62 -0.8l.61 1.5l.62 -1.9l.61 -10.0l.61 8.5l.62 -9.3l.61 4.7l.62 -2.1l.61 -8.8l.61 4.7l.62 -3.0l.61 -3.6l.62 9.4l.61 -9.9l.61 -4.3l.62 7.0l.61 -9.6l.62 -2.4l.61 -9.8l.61 9.9l.62 0.6l.61 3.3l.62 -13.3l.61 9.1l.61 2.1l.62 -2.2l.61 -1.9l.62 -5.7l.61 9.8l.61 -1.3l.62 -3.0l.61 12.0l.62 -0.9l.61 1.5l.61 11.2l.62 -8.5l.61 -4.5l.62 1.1l.61 12.8l.61 -1.5l.62 -0.8l.61 -4.2l.62 6.4l.61 -0.1l.61 4.9l.62 -2.0l.61 0.8l.62 3.9l.61 -2.2l.61 4.9l.62 -13.9l.61 8.9l.62 10.0l.61 -3.5l.61 -4.6l.62 3.8l.61 -1.2l.62 1.1l.61 7.1l.61 -6.8l.62 2.6l.61 -3.9l.62 0.6l.61 -2.9l.61 3.6l.62 1.0l.61 0.6l.62 1.5l.61 0.2l.61 2.3l.62 -3.2l.61 5.8l.62 -2.5l.61 3.0l.61 -5.4l.62 4.9l.61 -4.2l.62 -6.5l.61 6.2l.61 -0.6l.62 -4.7l.61 1.8l.62 1.4l.61 10.9l.61 -7.4l.62 5.7l.61 -3.3l.62 0.6l.61 -1.0l.61 -8.7l.62 10.3l.61 -8.5l.62 5.4l.61 -2.0l.61 6.4l.62 -1.6l.61 2.4l.62 -5.1l.61 -1.8l.61 2.8l.62 6.0l.61 -7.0l.62 -1.9l.61 -4.8l.61 1.8l.62 2.4l.61 2.7l.62 -0.3l.61 -2.8l.61 0.8l.62 5.1l.61 1.1l.62 -2.6l.61 1.1l.61 -1.2l.62 2.0l.61 -11.7l.62 2.6l.61 2.6l.61 0.3l.62 3.4l.61 -12.2l.62 7.2l.61 0.1l.61 -3.9l.62 1.7l.61 3.8l.62 -2.4l.61 -2.7l.61 0.7l.62 -1.9l.61 3.4l.62 -4.7l.61 3.3l.61 -6.8l.62 1.0l.61 -5.3l.62 2.2l.61 2.7l.61 -8.8l.62 0.9l.61 -0.0l.62 -3.9l.61 2.6l.61 -10.8l.62 5.9l.61 -0.8l.62 -1.5l.61 -10.3l.61 -6.5l.62 -6.7l.61 6.3l.62 -2.8l.61 -5.6l.61 -2.9l.62 -1.3l.61 -6.9l.62 -6.8l.61 -0.9l.61 2.6l.62 -0.2l.61 -1.9l.62 7.1l.61 -0.3l.61 10.4l.62 -0.2l.61 7.1l.62 -5.9l.61 4.5l.61 1.2l.62 11.2l.61 14.8l.62 -9.2l.61 -0.0l.61 5.1l.62 1.3l.61 6.1l.62 -2.0l.61 -1.7l.61 -2.5l.62 10.3l.61 3.8l.62 -2.3l.61 -3.0l.61 2.6l.62 1.2l.61 4.1l.62 -1.9l.61 5.2l.61 -4.8l.62 -1.4l.61 9.7l.62 -10.6l.61 0.9l.61 10.9l.62 -6.8l.61 5.6l.62 -16.4l.61 14.0l.61 -5.0l.62 -0.0l.61 1.0l.62 -13.0l.61 6.5l.61 4.4l.62 10.0l.61 -16.4l.62 11.0l.61 -7.9l.61 0.2l.62 -9.3l.61 4.6l.62 -7.6l.61 -3.4l.61 8.0l.62 -10.1l.61 -1.5l.62 2.7l.61 -8.6l.61 -4.2l.62 4.1l.61 -1.8l.62 3.7l.61 -12.6l.61 7.0l.62 -0.4l.61 -4.8l.62 1.8l.61 2.0l.61 -2.9l.62 0.7l.61 10.7l.62 -5.0l.61 2.8l.61 9.7l.62 -3.0l.61 2.9l.62 -1.7l.61 2.9l.61 1.4l.62 2.0l.61 12.0l.62 -7.0l.61 -3.7l.61 6.0l.62 8.2l.61 -6.0l.62 5.3l.61 -2.5l.61 -2.2l.62 5.3l.61 -1.1l.62 5.1l.61 2.6l.61 -2.4l.62 10.5l.61 -13.3l.62 9.3l.61 -3.1l.61 4.0l.62 -2.9l.61 -10.0l.62 7.5l.61 5.1l.61 -3.5l.62 -4.7l.61 3.0l.62 3.4l.61 3.4l.61 -6.5l.62 2.7l.61 -3.6l.62 -0.9l.61 2.7l.61 6.9l.62 -2.2l.61 -3.5l.62 1.0l.61 2.1l.61 -2.3l.62 -1.0l.61 0.6l.62 3.4l.61 -3.6l.61 4.3l.62 -9.5l.61 4.1l.62 1.2l.61 3.8l.61 -5.4l.62 1.4l.61 3.2l.62 -1.5l.61 -2.0l.61 1.3l.62 -2.1l.61 6.3l.62 -1.3l.61 1.6l.61 5.0l.62 -3.5l.61 -2.6l.62 -2.1l.61 8.6l.61 -7.2l.62 -1.6l.61 5.5l.62 -3.0l.61 -2.4l.61 2.6l.62 5.5l.61 -6.4l.62 0.9l.61 -4.4l.61 1.5l.62 4.9l.61 -3.4l.62 0.8l.61 3.5l.61 -5.0l.62 6.7l.61 -7.8l.62 -0.3l.61 -0.2l.61 -2.4l.62 7.3l.61 -1.9l.62 4.9l.61 -7.5l.61 5.3l.62 2.1l.61 -5.5l.62 0.2l.61 -8.3l.61 15.8l.62 -7.4l.61 3.0l.62 -4.3l.61 3.1l.61 -5.3l.62 6.7l.61 -2.2l.62 -1.7l.61 2.9l.61 -7.9l.62 7.0l.61 -2.2l.62 6.7l.61 -2.3l.61 -3.4l.62 -0.4l.61 11.6l.62 -14.0l.61 10.2l.61 -3.4l.62 -0.5l.61 -9.5l.62 9.7l.61 -4.7l.61 -1.4l.62 5.3l.61 -4.6l.62 4.6l.61 -5.4l.61 5.5l.62 -0.6l.61 -4.5l.62 -0.4l.61 1.0l.61 0.5l.62 -0.2l.61 8.7l.62 -5.1l.61 -2.7l.61 0.1l.62 -1.7l.61 3.9l.62 -1.2l.61 -2.2l.61 -0.0l.62 1.0l.61 -2.3l.62 4.2l.61 -3.6l.61 5.1l.62 -3.0l.61 3.1l.62 -4.0l.61 -4.5l.61 2.0l.62 3.6l.61 2.4l.62 0.1l.61 0.5l.61 0.6l.62 -1.1l.61 0.3l.62 -2.4l.61 2.8l.61 -2.3l.62 0.1l.61 1.0l.62 7.4l.61 -13.2l.61 3.5l.62 0.7l.61 2.5l.62 -1.5l.61 5.8l.61 -11.3l.62 11.9l.61 -10.8l.62 1.9l.61 4.5l.61 -1.6l.62 -0.4l.61 0.4l.62 1.1l.61 2.0l.61 -1.9l.62 -5.9l.61 1.8l.62 7.4l.61 2.0l.61 -3.5l.62 0.5l.61 -2.7l.62 6.2l.61 -9.3l.61 0.8l.62 -1.5l.61 8.2l.62 -7.4l.61 3.6l.61 -6.6l.62 -0.3l.61 8.6l.62 -1.0l.61 0.4l.61 -2.2l.62 -1.8l.61 -0.5l.62 -2.5l.61 2.6l.61 6.0l.62 -5.3l.61 -4.2l.62 3.8l.61 -2.7l.61 -0.7l.62 3.6l.61 -2.4l.62 -1.8l.61 9.7l.61 0.5l.62 -5.6l.61 4.5l.62 -6.9l.61 1.3l.61 4.5l.62 -3.7l.61 1.6l.62 -12.9l.61 10.5l.61 -2.8l.62 0.8l.61 -5.4l.62 2.2l.61 4.5l.61 -0.5l.62 0.1l.61 -0.3l.62 0.3l.61 -3.3l.61 -3.0l.62 -2.0l.61 -0.3l.62 -2.9l.61 -1.1l.61 2.2l.62 -9.2l.61 2.7l.62 0.4l.61 3.7l.61 0.9l.62 -4.1l.61 -2.6l.62 -2.8l.61 5.1l.61 -2.5l.62 -5.9l.61 1.9l.62 1.4l.61 1.9l.61 -4.6l.62 7.5l.61 -0.6l.62 -5.3l.61 1.9l.61 -1.6l.62 1.3l.61 5.9l.62 5.5l.61 1.3l.61 -3.4l.62 -0.8l.61 0.2l.62 5.1l.61 -2.2l.61 5.3l.62 -2.1l.61 2.4l.62 -2.1l.61 9.9l.61 -2.5l.62 -3.1l.61 -2.8l.62 5.7l.61 1.1l.61 -6.2l.62 4.7l.61 7.3l.62 -6.2l.61 -1.7l.61 3.8l.62 4.6l.61 -7.7l.62 0.3l.61 0.9l.61 1.3l.62 4.1l.61 -2.8l.62 -8.7l.61 9.4l.61 -0.0l.62 1.0l.61 -1.2l.62 -1.2l.61 2.3l.61 -4.1l.62 -3.3l.61 4.7l.62 -2.5l.61 9.7l.61 -6.2l.62 5.9l.61 -10.0l.62 0.5l.61 5.7l.61 -7.3l.62 3.8l.61 -4.5l.62 8.2l.61 -7.3l.61 5.5l.62 -5.6l.61 7.8l.62 2.1l.61 -3.3l.61 -3.7l.62 4.9l.61 1.9l.62 -0.7l.61 1.8l.61 2.2l.62 -5.7l.61 -1.7l.62 -1.2l.61 2.2l.61 -0.8l.62 -1.0l.61 3.1l.62 5.7l.61 -9.6l.61 1.1l.62 0.5l.61 -2.3l.62 7.2l.61 -4.2l.61 2.6l.62 -7.5l.61 7.5l.62 -2.4l.61 -4.5l.61 7.9l.62 0.3l.61 -2.4l.62 0.9l.61 -4.9l.61 6.8l.62 -4.3l.61 2.5l.62 0.4l.61 -0.4l.61 -4.1l.62 3.5l.61 -0.5l.62 3.6l.61 -6.6l.61 5.9l.62 -1.7l.61 -1.4l.62 6.3l.61 -3.7l.61 -4.6l.62 2.9l.61 -3.6l.62 -1.4l.61 2.3l.61 0.1l.62 7.5l.61 -3.1l.62 -11.0l.61 7.7l.61 -1.8l.62 1.9l.61 1.1l.62 -0.5l.61 1.4l.61 -4.2l.62 7.6l.61 -5.3l.62 4.7l.61 -4.6l.61 2.0l.62 -4.9l.61 7.1l.62 -2.8l.61 -2.4l.61 2.7l.62 0.3l.61 -6.9l.62 2.7l.61 -0.8l.61 6.2l.62 -2.2l.61 -2.9l.62 -0.1l.61 2.2l.61 -7.7l.62 7.3l.61 5.9l.62 -10.1l.61 0.7l.61 0.2l.62 5.4l.61 -4.1l.62 9.0l.61 -7.1l.61 -1.0l.62 -2.1l.61 6.1l.62 1.3l.61 -3.1l.61 3.9l.62 -0.2l.61 -3.1l.62 -1.0l.61 -2.1l.61 2.7l.62 -2.0l.61 6.3l.62 -2.5l.61 -3.2l.61 -0.7l.62 2.7l.61 2.2l.62 -2.7l.61 2.5l.61 -5.0l.62 2.3l.61 1.5l.62 -1.6l.61 0.7l.61 2.1l.62 -3.5l.61 3.4l.62 -5.1l.61 3.4l.61 -3.1l.62 0.1l.61 3.4l.62 2.3l.61 -4.8l.61 0.7l.62 4.2l.61 -7.2l.62 5.8l.61 -7.1l.61 -2.4l.62 7.6l.61 -2.2l.62 -0.8l.61 -6.4l.61 9.3l.62 -2.8l.61 -2.4l.62 3.5l.61 -3.7l.61 1.5l.62 -0.2l.61 6.0l.62 -3.7l.61 4.7l.61 -7.1l.62 -1.3l.61 9.9l.62 -10.6l.61 8.8l.61 -7.9l.62 6.1l.61 -4.9l.62 7.6l.61 1.5l.61 -3.1l.62 -2.4l.61 -2.4l.62 3.9l.61 4.4l.61 -8.7l.62 -2.3l.61 9.9l.62 -6.8l.61 3.2l.61 -1.9l.62 0.3l.61 -1.9l.62 0.5l.61 -5.2l.61 3.7l.62 -1.1l.61 6.9l.62 -5.0l.61 1.4l.61 -6.1l.62 5.9l.61 4.9l.62 -4.6l.61 2.4l.61 -4.1l.62 -1.0l.61 5.2l.62 -4.8l.61 -2.0l.61 3.2l.62 -1.0l.61 4.8l.62 -1.1l.61 -7.4l.61 6.6l.62 -6.3l.61 5.1l.62 1.2l.61 -3.7l.61 -0.1l.62 4.4l.61 -3.7l.62 -2.8l.61 9.3l.61 -2.7l.62 -1.4l.61 -0.5l.62 2.2l.61 -3.2l.61 2.3l.62 -1.6l.61 -3.5l.62 5.8l.61 -3.1l.61 -3.4l.62 1.1l.61 -6.8l.62 2.4l.61 0.5l.61 7.1l.62 -0.3l.61 1.5l.62 -2.7l.61 4.2l.61 -7.8l.62 -1.4l.61 -0.9l.62 3.4l.61 -3.4l.61 -1.5l.62 0.7l.61 1.6l.62 -5.9l.61 3.4l.61 -1.2l.62 4.6l.61 -6.9l.62 -6.8l.61 3.5l.61 -2.4l.62 -7.6l.61 -9.2l.62 11.2l.61 -6.4l.61 -5.1l.62 -0.8l.61 2.7l.62 -0.6l.61 -10.6l.61 6.4l.62 -6.7l.61 0.5l.62 0.7l.61 1.9l.61 2.0l.62 0.6l.61 5.6l.62 -0.9l.61 8.8l.61 -1.7l.62 6.7l.61 0.2l.62 -3.8l.61 12.6l.61 -1.5l.62 0.3l.61 0.3l.62 8.6l.61 -6.1l.61 5.0l.62 -1.9l.61 -4.8l.62 7.6l.61 -7.3l.61 7.1l.62 0.1l.61 -0.4l.62 -3.3l.61 7.5l.61 1.3l.62 -9.2l.61 1.8l.62 6.8l.61 -7.2l.61 4.6l.62 -6.9l.61 0.9l.62 2.7l.61 0.2l.61 -7.0l.62 0.8l.61 4.8l.62 1.9l.61 -3.4l.61 -1.5l.62 -0.7l.61 -6.9l.62 4.5l.61 0.5l.61 -2.4l.62 -7.8l.61 -0.8l.62 5.9l.61 -10.7l.61 -0.5l.62 8.2l.61 -10.7l.62 -0.8l.61 3.9l.61 -0.4l.62 -4.2l.61 -5.1l.62 3.5l.61 2.9l.61 -3.3l.62 0.8l.61 9.6l.62 -1.2l.61 2.5l.61 2.1l.62 -5.3l.61 7.2l.62 4.2l.61 -0.2l.61 -5.0l.62 0.1l.61 4.1l.62 6.1l.61 -1.4l.61 2.8l.62 -4.3l.61 8.1l.62 -4.5l.61 7.2l.61 -3.3l.62 -9.4l.61 10.1l.62 -1.8l.61 0.5l.61 2.8l.62 4.5l.61 -0.4l.62 2.2l.61 -4.5l.61 -6.0l.62 4.7l.61 -1.0l.62 1.0l.61 11.4l.61 -6.1l.62 -5.8l.61 7.4l.62 -4.8l.61 -3.4l.61 8.6l.62 -5.4l.61 2.1l.62 7.4l.61 -11.0l.61 7.0l.62 -4.4l.61 -2.6l.62 3.0l.61 1.5l.61 0.1l.62 -5.7l.61 8.0l.62 -5.5l.61 3.9l.61 -0.3"/>
<path d="M187.0 1099.1l.61 2.7l.62 -3.6l.61 -3.9l.62 3.7l.61 -3.3l.61 8.1l.62 9.7l.61 -12.7l.62 -0.3l.61 8.5l.61 -0.5l.62 -1.2l.61 -7.0l.62 7.0l.61 5.8l.61 -14.2l.62 6.9l.61 -9.9l.62 4.9l.61 -3.4l.61 12.0l.62 -6.9l.61 11.5l.62 -0.3l.61 -2.0l.61 -16.2l.62 14.7l.61 4.0l.62 1.6l.61 -11.3l.61 8.0l.62 -3.1l.61 1.7l.62 13.9l.61 -13.0l.61 6.1l.62 7.0l.61 -10.1l.62 3.8l.61 2.1l.61 0.1l.62 -8.8l.61 9.7l.62 9.7l.61 -20.4l.61 17.6l.62 -4.9l.61 -5.0l.62 19.3l.61 -8.4l.61 -13.7l.62 9.5l.61 4.0l.62 -5.1l.61 6.7l.61 -5.0l.62 5.6l.61 5.9l.62 -14.8l.61 6.7l.61 -4.4l.62 4.5l.61 -9.0l.62 4.7l.61 3.1l.61 8.1l.62 2.1l.61 -17.3l.62 4.1l.61 10.6l.61 -18.6l.62 11.3l.61 2.9l.62 10.0l.61 -3.8l.61 -7.0l.62 0.0l.61 1.2l.62 12.9l.61 -13.6l.61 1.2l.62 4.9l.61 -3.1l.62 -0.2l.61 -6.3l.61 8.2l.62 -2.8l.61 11.7l.62 -3.3l.61 -4.6l.61 5.2l.62 -6.9l.61 10.2l.62 -7.3l.61 4.5l.61 -13.1l.62 11.9l.61 -14.2l.62 -2.2l.61 12.6l.61 -4.0l.62 7.8l.61 15.1l.62 -21.7l.61 1.8l.61 6.1l.62 2.3l.61 -4.5l.62 0.0l.61 6.7l.61 -1.0l.62 -10.9l.61 7.1l.62 1.0l.61 -7.5l.61 9.6l.62 -7.8l.61 13.3l.62 -5.3l.61 -0.6l.61 -4.6l.62 3.6l.61 -13.2l.62 6.4l.61 10.8l.61 -17.5l.62 21.4l.61 -18.2l.62 17.9l.61 -11.1l.61 11.7l.62 -4.4l.61 -11.7l.62 20.0l.61 1.5l.61 -10.5l.62 -1.3l.61 1.0l.62 -5.6l.61 14.9l.61 -11.5l.62 3.7l.61 -5.1l.62 1.3l.61 -4.5l.61 18.2l.62 -9.9l.61 8.1l.62 -6.6l.61 -4.9l.61 2.8l.62 -1.6l.61 4.2l.62 -2.6l.61 0.7l.61 -7.5l.62 4.1l.61 17.6l.62 -16.4l.61 -2.5l.61 9.9l.62 7.7l.61 -20.1l.62 8.9l.61 -2.8l.61 -7.9l.62 17.8l.61 -5.3l.62 0.8l.61 -5.7l.61 8.7l.62 -6.9l.61 2.9l.62 -6.7l.61 -0.6l.61 18.1l.62 -12.9l.61 5.8l.62 -2.2l.61 -2.8l.61 -0.3l.62 8.1l.61 -6.4l.62 1.1l.61 1.4l.61 8.2l.62 -3.4l.61 -2.0l.62 -6.5l.61 -5.7l.61 16.6l.62 0.2l.61 -7.7l.62 4.9l.61 1.8l.61 0.4l.62 0.8l.61 -9.6l.62 14.0l.61 -19.4l.61 14.9l.62 -2.5l.61 2.8l.62 7.2l.61 -2.7l.61 -18.5l.62 -3.7l.61 17.7l.62 -12.8l.61 7.1l.61 6.1l.62 -17.4l.61 -3.2l.62 16.7l.61 -1.4l.61 -2.0l.62 2.1l.61 -6.3l.62 -4.6l.61 9.6l.61 -5.6l.62 -4.7l.61 15.2l.62 -4.0l.61 3.3l.61 -9.7l.62 2.3l.61 -2.3l.62 0.8l.61 7.6l.61 -6.8l.62 8.0l.61 -0.1l.62 11.9l.61 -24.0l.61 16.0l.62 -6.9l.61 0.6l.62 -10.1l.61 6.9l.61 8.5l.62 -5.8l.61 1.1l.62 -2.6l.61 10.2l.61 -8.3l.62 -15.3l.61 10.6l.62 -9.0l.61 -9.0l.61 19.1l.62 13.0l.61 -9.0l.62 -8.5l.61 1.6l.61 14.5l.62 -6.9l.61 -0.7l.62 -0.8l.61 0.7l.61 5.3l.62 -1.8l.61 -2.4l.62 -8.8l.61 10.9l.61 -8.4l.62 12.4l.61 -16.6l.62 8.0l.61 0.9l.61 -9.3l.62 21.3l.61 -1.8l.62 -13.5l.61 8.6l.61 -2.8l.62 -20.9l.61 20.0l.62 -2.2l.61 0.9l.61 -8.1l.62 5.6l.61 0.6l.62 9.6l.61 -6.0l.61 -2.4l.62 10.7l.61 -14.6l.62 1.1l.61 -10.0l.61 23.6l.62 -4.2l.61 -0.4l.62 -1.8l.61 -3.9l.61 0.7l.62 -3.3l.61 0.3l.62 1.8l.61 10.1l.61 -6.7l.62 -4.3l.61 -3.7l.62 -0.4l.61 15.6l.61 -7.7l.62 -3.1l.61 -2.9l.62 -5.3l.61 7.2l.61 6.5l.62 -8.8l.61 1.1l.62 -0.0l.61 2.2l.61 -11.8l.62 9.4l.61 -4.4l.62 12.1l.61 -11.6l.61 9.4l.62 6.6l.61 -12.9l.62 -2.0l.61 5.5l.61 -1.4l.62 -6.9l.61 10.0l.62 10.8l.61 -15.8l.61 0.3l.62 -5.9l.61 9.5l.62 -11.0l.61 1.0l.61 16.5l.62 -15.2l.61 13.7l.62 3.1l.61 -8.9l.61 2.0l.62 9.7l.61 -15.0l.62 -2.8l.61 -5.3l.61 9.6l.62 9.9l.61 -3.6l.62 -13.3l.61 0.6l.61 2.3l.62 5.5l.61 -3.5l.62 2.8l.61 0.6l.61 -4.2l.62 1.7l.61 1.7l.62 -2.1l.61 4.0l.61 9.4l.62 -8.9l.61 -3.8l.62 -12.1l.61 14.3l.61 -16.3l.62 3.7l.61 15.6l.62 -1.1l.61 -6.0l.61 -10.9l.62 9.3l.61 -2.2l.62 9.0l.61 11.2l.61 -14.2l.62 -7.0l.61 -2.8l.62 7.7l.61 -0.9l.61 -6.9l.62 8.8l.61 -8.9l.62 15.6l.61 -0.4l.61 0.1l.62 -10.9l.61 6.8l.62 -4.6l.61 -1.8l.61 0.3l.62 -6.7l.61 -1.1l.62 15.4l.61 -6.9l.61 2.8l.62 5.3l.61 -19.0l.62 6.5l.61 6.6l.61 1.4l.62 -5.4l.61 9.7l.62 -5.7l.61 -10.0l.61 1.9l.62 12.0l.61 -2.5l.62 -16.4l.61 22.4l.61 -5.3l.62 5.1l.61 -12.0l.62 0.5l.61 -5.8l.61 25.2l.62 -18.8l.61 12.1l.62 -15.6l.61 5.6l.61 -12.8l.62 8.8l.61 9.3l.62 -15.5l.61 16.0l.61 -5.2l.62 -9.6l.61 3.6l.62 0.2l.61 2.7l.61 -3.4l.62 -2.2l.61 3.5l.62 -5.0l.61 -2.0l.61 8.5l.62 6.3l.61 -16.7l.62 10.4l.61 -4.6l.61 -2.3l.62 12.5l.61 -9.6l.62 13.8l.61 -15.8l.61 7.9l.62 -4.3l.61 -3.8l.62 9.2l.61 -5.3l.61 5.2l.62 -4.6l.61 -7.3l.62 6.7l.61 0.9l.61 6.2l.62 -13.0l.61 5.9l.62 -11.7l.61 16.2l.61 -12.0l.62 -5.1l.61 11.9l.62 8.0l.61 -18.3l.61 2.9l.62 2.3l.61 -2.7l.62 10.3l.61 -8.3l.61 0.5l.62 8.9l.61 -9.3l.62 8.1l.61 -9.8l.61 -1.8l.62 -4.4l.61 25.5l.62 -15.2l.61 3.8l.61 -2.0l.62 1.3l.61 -0.9l.62 12.8l.61 -20.5l.61 -3.6l.62 3.6l.61 -2.3l.62 14.3l.61 0.5l.61 -12.4l.62 -3.1l.61 7.1l.62 12.0l.61 -29.3l.61 23.1l.62 -11.2l.61 14.6l.62 -14.8l.61 5.4l.61 -8.6l.62 3.6l.61 16.3l.62 -4.1l.61 -8.6l.61 -3.4l.62 -7.2l.61 10.2l.62 2.4l.61 -0.5l.61 -0.2l.62 -7.4l.61 7.2l.62 0.0l.61 9.1l.61 3.8l.62 -14.2l.61 -4.6l.62 4.7l.61 -4.1l.61 -1.2l.62 4.5l.61 -7.2l.62 11.3l.61 -5.4l.61 2.2l.62 -3.4l.61 -4.3l.62 -2.0l.61 4.6l.61 -2.7l.62 5.0l.61 -2.2l.62 -10.3l.61 9.5l.61 -10.7l.62 4.4l.61 1.5l.62 -13.7l.61 14.7l.61 -0.6l.62 -3.4l.61 -3.1l.62 -1.0l.61 -6.0l.61 3.6l.62 -4.0l.61 2.8l.62 -12.1l.61 8.4l.61 -3.7l.62 -5.5l.61 -6.1l.62 3.6l.61 -22.8l.61 11.6l.62 -8.1l.61 -6.9l.62 -7.2l.61 -18.4l.61 -7.0l.62 -3.3l.61 -14.7l.62 -16.2l.61 -31.3l.61 2.7l.62 -11.3l.61 -19.3l.62 -25.0l.61 -33.6l.61 7.9l.62 -22.8l.61 -31.1l.62 22.5l.61 -17.0l.61 7.2l.62 15.8l.61 30.9l.62 0.5l.61 23.2l.61 31.6l.62 16.4l.61 1.5l.62 15.1l.61 5.8l.61 19.3l.62 23.1l.61 11.1l.62 7.8l.61 16.8l.61 -6.8l.62 13.2l.61 12.7l.62 4.4l.61 8.7l.61 -1.0l.62 -1.6l.61 8.5l.62 -7.3l.61 -2.0l.61 18.8l.62 -2.6l.61 4.6l.62 -12.8l.61 11.2l.61 -0.2l.62 -0.5l.61 -8.6l.62 14.7l.61 9.7l.61 -2.7l.62 -5.9l.61 4.9l.62 6.1l.61 -23.5l.61 18.9l.62 5.2l.61 1.6l.62 7.5l.61 -3.3l.61 -5.0l.62 0.4l.61 3.7l.62 -8.5l.61 3.8l.61 6.8l.62 7.5l.61 -13.8l.62 1.1l.61 2.0l.61 8.0l.62 -8.9l.61 10.3l.62 -15.9l.61 5.5l.61 0.2l.62 6.8l.61 2.0l.62 -16.6l.61 4.1l.61 8.6l.62 -6.4l.61 -5.4l.62 17.1l.61 -3.4l.61 0.2l.62 -6.1l.61 10.1l.62 -8.2l.61 9.0l.61 -13.0l.62 0.6l.61 7.1l.62 -5.7l.61 9.2l.61 -2.6l.62 -7.5l.61 6.7l.62 -2.6l.61 8.4l.61 -9.9l.62 1.4l.61 10.9l.62 6.9l.61 -1.4l.61 -12.3l.62 1.2l.61 8.7l.62 -10.5l.61 -5.3l.61 7.3l.62 2.3l.61 -8.0l.62 -5.1l.61 1.6l.61 13.8l.62 -9.0l.61 4.2l.62 2.5l.61 2.9l.61 -5.9l.62 5.5l.61 -8.6l.62 3.6l.61 -4.0l.61 14.0l.62 -7.2l.61 -4.3l.62 2.7l.61 1.0l.61 6.1l.62 -14.4l.61 3.8l.62 4.4l.61 18.8l.61 -9.9l.62 -6.5l.61 5.4l.62 8.8l.61 -14.4l.61 -0.6l.62 10.2l.61 -4.3l.62 1.3l.61 -7.3l.61 15.6l.62 -1.1l.61 -7.1l.62 1.0l.61 -16.9l.61 17.0l.62 -5.0l.61 4.2l.62 1.8l.61 -6.3l.61 -8.3l.62 13.2l.61 -6.7l.62 2.8l.61 -1.5l.61 1.8l.62 -12.1l.61 22.4l.62 -5.9l.61 5.6l.61 5.7l.62 -12.0l.61 -11.2l.62 5.9l.61 -1.8l.61 4.7l.62 3.8l.61 -12.7l.62 14.8l.61 -11.3l.61 11.5l.62 -2.3l.61 -1.1l.62 1.8l.61 -2.7l.61 -0.3l.62 -6.4l.61 10.5l.62 11.9l.61 1.1l.61 -3.9l.62 -3.6l.61 -8.4l.62 13.4l.61 -9.1l.61 0.2l.62 -1.2l.61 2.6l.62 -3.1l.61 2.4l.61 -5.9l.62 4.6l.61 16.6l.62 -14.3l.61 -0.8l.61 4.9l.62 1.3l.61 -11.0l.62 5.8l.61 7.1l.61 -3.8l.62 -0.7l.61 9.0l.62 -13.5l.61 4.9l.61 -3.5l.62 12.5l.61 -20.9l.62 8.1l.61 1.0l.61 7.5l.62 -0.1l.61 5.0l.62 -18.0l.61 14.4l.61 -6.2l.62 -2.1l.61 7.6l.62 -8.8l.61 -6.9l.61 10.6l.62 -6.7l.61 5.4l.62 6.4l.61 -0.2l.61 7.9l.62 -10.7l.61 -8.0l.62 4.9l.61 -0.9l.61 -1.6l.62 10.2l.61 -6.5l.62 -7.9l.61 16.4l.61 -4.8l.62 3.0l.61 -1.4l.62 3.3l.61 -3.5l.61 7.4l.62 -4.8l.61 -0.0l.62 0.2l.61 -11.2l.61 7.9l.62 -0.4l.61 2.9l.62 -9.3l.61 18.1l.61 -9.1l.62 -7.8l.61 -2.9l.62 8.7l.61 1.3l.61 -3.7l.62 5.0l.61 -4.4l.62 7.3l.61 -7.6l.61 4.2l.62 6.2l.61 9.7l.62 -21.4l.61 3.3l.61 -2.1l.62 9.8l.61 -11.5l.62 4.0l.61 2.8l.61 -5.6l.62 0.2l.61 3.0l.62 -9.7l.61 4.0l.61 6.3l.62 3.4l.61 -1.9l.62 -9.5l.61 7.9l.61 7.6l.62 -1.4l.61 -3.7l.62 -4.8l.61 9.2l.61 -7.2l.62 -3.5l.61 2.2l.62 13.5l.61 -7.3l.61 5.7l.62 -9.8l.61 8.5l.62 -9.1l.61 2.7l.61 15.8l.62 -10.3l.61 -7.5l.62 2.5l.61 2.5l.61 5.2l.62 -10.1l.61 -7.5l.62 8.8l.61 1.7l.61 0.6l.62 7.2l.61 -6.0l.62 2.9l.61 -11.4l.61 11.7l.62 7.3l.61 -8.0l.62 -3.2l.61 -0.6l.61 9.7l.62 -16.4l.61 4.8l.62 3.3l.61 1.6l.61 -7.2l.62 4.3l.61 -3.7l.62 2.3l.61 -1.8l.61 -6.3l.62 6.5l.61 5.2l.62 -11.4l.61 4.0l.61 5.2l.62 -11.0l.61 7.2l.62 -8.0l.61 12.9l.61 6.6l.62 -2.3l.61 -14.5l.62 5.2l.61 -4.7l.61 -1.0l.62 8.0l.61 -19.1l.62 13.7l.61 -8.4l.61 7.7l.62 -9.6l.61 -7.6l.62 3.8l.61 0.4l.61 -7.7l.62 -0.4l.61 -10.8l.62 -15.6l.61 15.7l.61 -7.2l.62 -10.5l.61 -8.1l.62 -1.2l.61 -20.8l.61 -12.6l.62 -7.6l.61 -1.7l.62 -34.2l.61 6.0l.61 -29.8l.62 -19.2l.61 3.4l.62 -25.3l.61 -22.4l.61 -2.9l.62 3.2l.61 -1.1l.62 -11.6l.61 11.9l.61 11.5l.62 1.2l.61 22.0l.62 12.4l.61 11.9l.61 16.2l.62 19.8l.61 14.3l.62 8.9l.61 13.7l.61 23.4l.62 3.5l.61 14.3l.62 10.6l.61 3.1l.61 18.2l.62 -15.4l.61 16.3l.62 -2.8l.61 18.3l.61 2.5l.62 -20.2l.61 9.2l.62 12.9l.61 3.1l.61 1.7l.62 -3.1l.61 4.9l.62 2.8l.61 -3.0l.61 8.0l.62 -18.5l.61 18.5l.62 -8.9l.61 12.8l.61 -6.0l.62 -3.0l.61 8.2l.62 -6.7l.61 0.7l.61 -3.1l.62 9.7l.61 3.7l.62 3.6l.61 -6.1l.61 7.4l.62 -5.4l.61 -0.2l.62 4.3l.61 3.3l.61 -7.6l.62 1.0l.61 0.9l.62 1.8l.61 -5.2l.61 11.3l.62 -7.7l.61 5.2l.62 -7.0l.61 7.1l.61 0.4l.62 -4.2l.61 14.0l.62 -9.0l.61 8.2l.61 -4.4l.62 -8.8l.61 1.8l.62 4.8l.61 -1.8l.61 0.1l.62 -1.6l.61 -8.3l.62 9.1l.61 -10.9l.61 14.6l.62 -5.9l.61 0.3l.62 2.9l.61 2.9l.61 -9.2l.62 -1.6l.61 4.0l.62 -5.3l.61 6.2l.61 14.3l.62 -14.5l.61 9.6l.62 -11.0l.61 9.4l.61 -3.3l.62 1.6l.61 3.6l.62 6.7l.61 -8.4l.61 -0.3l.62 -5.9l.61 8.7l.62 -4.4l.61 6.0l.61 -4.6l.62 9.9l.61 -20.3l.62 9.4l.61 6.5l.61 -6.6l.62 -2.3l.61 3.0l.62 -6.0l.61 8.3l.61 12.8l.62 -6.9l.61 -12.2l.62 1.4l.61 2.6l.61 7.8l.62 -9.8l.61 0.8l.62 8.6l.61 0.0l.61 -6.6l.62 -4.0l.61 -2.2l.62 4.7l.61 -8.3l.61 16.3l.62 -7.4l.61 6.1l.62 7.6l.61 -3.7l.61 -12.5l.62 11.0l.61 1.6l.62 -10.2l.61 -1.1l.61 4.6l.62 -8.0l.61 16.7l.62 -21.0l.61 7.1l.61 4.6l.62 0.3l.61 2.1l.62 0.6l.61 -2.6l.61 7.4l.62 -17.7l.61 11.6l.62 -3.9l.61 4.6l.61 0.5l.62 -6.2l.61 1.5l.62 7.7l.61 -2.4l.61 -5.6l.62 14.7l.61 1.4l.62 -20.4l.61 9.5l.61 11.8l.62 -9.4l.61 -3.1l.62 -2.4l.61 -1.9l.61 1.6l.62 -2.0l.61 6.9l.62 -6.4l.61 -0.4l.61 -4.4l.62 6.0l.61 -4.8l.62 3.5l.61 6.3l.61 -4.1l.62 0.3l.61 -1.3l.62 -2.3l.61 -1.7l.61 -1.8l.62 5.0l.61 -11.4l.62 12.3l.61 -8.8l.61 -6.1l.62 -0.4l.61 -3.3l.62 2.3l.61 -8.0l.61 7.7l.62 -14.9l.61 -13.0l.62 5.0l.61 -12.6l.61 7.5l.62 2.2l.61 -7.3l.62 -17.2l.61 0.1l.61 14.2l.62 -11.1l.61 -2.1l.62 8.5l.61 11.8l.61 -4.0l.62 -3.1l.61 6.1l.62 6.6l.61 -2.8l.61 1.9l.62 11.2l.61 -2.0l.62 9.0l.61 4.2l.61 15.8l.62 -15.7l.61 6.5l.62 1.7l.61 5.2l.61 4.8l.62 -7.1l.61 -0.6l.62 -3.5l.61 4.8l.61 8.7l.62 -1.9l.61 -5.2l.62 4.0l.61 2.6l.61 3.0l.62 -5.6l.61 2.1l.62 -8.1l.61 3.7l.61 14.9l.62 -20.2l.61 9.8l.62 2.8l.61 -3.5l.61 -2.7l.62 3.4l.61 -0.5l.62 -1.4l.61 -10.8l.61 8.1l.62 -5.3l.61 0.3l.62 3.1l.61 1.3l.61 1.0l.62 -7.5l.61 8.6l.62 2.5l.61 1.2l.61 2.9l.62 -6.9l.61 1.3l.62 6.6l.61 -10.7l.61 9.3l.62 -3.2l.61 1.4l.62 -6.8l.61 4.8l.61 4.7l.62 4.9l.61 0.6l.62 -5.7l.61 -0.7l.61 -3.5l.62 6.2l.61 -3.7l.62 4.1l.61 5.5l.61 -10.0l.62 -8.6l.61 2.3l.62 -4.6l.61 -0.4l.61 11.3l.62 -8.6l.61 -13.0l.62 7.9l.61 -1.3l.61 -15.0l.62 -8.3l.61 -4.9l.62 -3.2l.61 -4.1l.61 -1.4l.62 -2.3l.61 0.1l.62 4.3l.61 0.8l.61 -6.8l.62 15.7l.61 9.6l.62 2.3l.61 13.1l.61 -2.3l.62 1.1l.61 16.3l.62 -1.4l.61 -0.2l.61 5.6l.62 2.1l.61 -2.6l.62 -13.6l.61 10.1l.61 1.8l.62 -2.2l.61 6.6l.62 5.6l.61 -8.3l.61 -2.9l.62 16.4l.61 -12.3l.62 -3.8l.61 7.8l.61 1.1l.62 -5.5l.61 7.8l.62 -6.3l.61 -2.1l.61 5.8l.62 3.1l.61 -7.0l.62 5.0l.61 -2.0l.61 14.8l.62 -17.7l.61 10.7l.62 -7.1l.61 -0.3l.61 4.3l.62 1.0l.61 1.9l.62 -4.6l.61 -4.6l.61 0.4l.62 5.4l.61 0.4l.62 4.1l.61 -4.8l.61 3.3l.62 2.3l.61 -6.7l.62 -8.1l.61 1.6l.61 -1.3l.62 15.2l.61 -12.1l.62 10.4l.61 -3.2l.61 5.7l.62 -3.5l.61 -5.4l.62 -0.5l.61 1.5l.61 0.5l.62 -3.4l.61 2.5l.62 8.2l.61 -16.4l.61 9.8l.62 -5.8l.61 5.5l.62 3.3l.61 -4.4l.61 4.1l.62 -11.6l.61 13.4l.62 -8.4l.61 6.1l.61 -2.2l.62 -13.6l.61 9.1l.62 4.8l.61 6.7l.61 -6.2l.62 -0.1l.61 -8.2l.62 14.0l.61 1.9l.61 -8.7l.62 -1.2l.61 -6.8l.62 12.3l.61 9.0l.61 -9.7l.62 2.7l.61 -3.5l.62 -7.4l.61 11.4l.61 -12.6l.62 5.1l.61 2.4l.62 3.0l.61 -2.2l.61 -0.1l.62 -5.6l.61 -2.5l.62 6.7l.61 -3.7l.61 -2.9l.62 0.3l.61 3.8l.62 -6.5l.61 2.5l.61 -1.3l.62 9.0l.61 1.2l.62 7.8l.61 -16.8l.61 4.1l.62 7.9l.61 -5.3l.62 -0.3l.61 10.1l.61 -9.7l.62 -3.7l.61 -0.5l.62 8.3l.61 0.2l.61 -7.8l.62 2.2l.61 7.7l.62 0.5l.61 -5.6l.61 6.4l.62 -0.1l.61 -11.1l.62 7.2l.61 3.5l.61 -4.8l.62 -7.6l.61 8.7l.62 4.8l.61 3.7l.61 -18.3l.62 22.7l.61 -18.2l.62 9.7l.61 1.1l.61 -1.5l.62 -4.2l.61 -6.5l.62 8.3l.61 -6.5l.61 -8.8l.62 25.4l.61 -10.3l.62 5.2l.61 -13.1l.61 11.3l.62 0.5l.61 -0.2l.62 -7.6l.61 -5.6l.61 4.8l.62 -9.6l.61 2.3l.62 8.5l.61 -5.1l.61 3.9l.62 0.3l.61 9.7l.62 -3.0l.61 -6.4l.61 5.9l.62 -9.4l.61 2.1l.62 6.0l.61 -10.2l.61 4.5l.62 -4.9l.61 6.8l.62 7.2l.61 -11.2l.61 4.6l.62 -5.3l.61 -1.2l.62 -0.4l.61 12.8l.61 4.3l.62 -8.9l.61 -5.6l.62 6.7l.61 -4.9l.61 5.4l.62 -2.4l.61 -0.0l.62 1.5l.61 -5.5l.61 0.8l.62 -6.2l.61 6.1l.62 -4.6l.61 6.0l.61 -3.8l.62 5.0l.61 1.7l.62 -8.8l.61 2.9l.61 -0.6l.62 7.9l.61 4.5l.62 -3.9l.61 -5.6l.61 8.5l.62 -13.9l.61 14.1l.62 -10.1l.61 -9.9l.61 25.4l.62 -5.0l.61 -12.1l.62 5.6l.61 -1.8l.61 1.5l.62 -7.3l.61 3.7l.62 5.4l.61 -1.1l.61 4.5l.62 -5.1l.61 10.5l.62 -14.2l.61 4.6l.61 -10.1l.62 3.1l.61 12.0l.62 -10.5l.61 6.9l.61 -2.8l.62 -4.5l.61 3.3l.62 -0.8l.61 0.2l.61 5.7l.62 -0.4l.61 -5.7l.62 -1.5l.61 5.6l.61 -1.8l.62 5.2l.61 7.6l.62 -8.4l.61 -4.0l.61 -0.6l.62 -3.1l.61 -0.2l.62 -0.4l.61 2.8l.61 -0.1l.62 5.4l.61 -5.2l.62 0.9l.61 -4.6l.61 13.1l.62 -5.2l.61 5.9l.62 -4.5l.61 3.2l.61 -7.9l.62 4.4l.61 9.1l.62 -17.9l.61 11.0l.61 2.4l.62 -5.8l.61 1.6l.62 2.3l.61 -8.8l.61 4.9l.62 -5.9l.61 0.9l.62 0.3l.61 2.2l.61 1.4l.62 1.4l.61 -8.7l.62 15.8l.61 -3.8l.61 -2.0l.62 -5.1l.61 1.2l.62 3.0l.61 -0.7l.61 -9.8l.62 11.3l.61 10.1l.62 -22.3l.61 13.2l.61 -3.1l.62 -2.3l.61 6.8l.62 -12.2l.61 6.1l.61 5.8l.62 -8.1l.61 -1.5l.62 2.0l.61 -3.4l.61 8.6l.62 -12.6l.61 7.3l.62 -11.6l.61 7.6l.61 -5.6l.62 -14.1l.61 10.5l.62 -7.4l.61 1.1l.61 8.4l.62 -14.4l.61 0.0l.62 13.3l.61 -5.4l.61 9.0l.62 -4.0l.61 -3.7l.62 6.2l.61 8.3l.61 0.4l.62 -2.8l.61 1.6l.62 0.5l.61 -1.2l.61 12.6l.62 -8.2l.61 -4.7l.62 3.5l.61 6.0l.61 -0.1l.62 -3.3l.61 -2.1l.62 3.4l.61 -7.6l.61 1.9l.62 9.8l.61 -5.7l.62 4.0l.61 4.0l.61 -2.5l.62 -2.7l.61 9.7l.62 -6.6l.61 -4.5l.61 5.0l.62 -1.4l.61 -5.7l.62 4.3l.61 -1.0l.61 -8.1l.62 8.2l.61 -0.4l.62 -0.6l.61 -5.4l.61 5.9l.62 1.5l.61 0.7l.62 -5.6l.61 8.1l.61 -8.3l.62 4.5l.61 7.0l.62 -9.0l.61 0.9l.61 7.2l.62 -6.5l.61 0.4l.62 2.4l.61 3.8l.61 -14.6l.62 6.2l.61 -0.7l.62 -0.3l.61 1.0l.61 0.2l.62 5.1l.61 -5.3l.62 4.6l.61 1.3l.61 -5.0l.62 3.8l.61 6.8l.62 -5.8l.61 -4.3l.61 2.6l.62 -3.7l.61 5.3l.62 2.6l.61 -7.4l.61 2.8l.62 5.8l.61 -7.1l.62 3.1l.61 -5.3l.61 0.9l.62 1.4l.61 11.7l.62 -11.1l.61 -0.5l.61 -0.1l.62 1.7l.61 3.6l.62 -2.0l.61 8.1l.61 -8.0l.62 5.4l.61 -5.0l.62 1.4l.61 -8.8l.61 5.7l.62 0.3l.61 -0.8l.62 -8.2l.61 13.1l.61 -5.4l.62 -0.2l.61 0.8l.62 0.1l.61 2.7l.61 -7.2l.62 1.5l.61 5.3l.62 -0.6l.61 -2.3l.61 -0.8l.62 -1.1l.61 3.3l.62 5.4l.61 -9.6l.61 11.1l.62 -2.9l.61 -5.6l.62 5.3l.61 -9.6l.61 -1.2l.62 1.9l.61 3.8l.62 0.4l.61 -0.8l.61 2.6l.62 -9.5l.61 11.2l.62 -8.2l.61 3.3l.61 1.1l.62 -3.2l.61 -0.9l.62 1.5l.61 4.3l.61 2.6l.62 -0.1l.61 -6.7l.62 0.9l.61 -0.6l.61 5.9l.62 -10.6l.61 14.0l.62 -7.4l.61 -1.3l.61 4.8l.62 3.0l.61 -3.0l.62 3.1l.61 -4.0l.61 4.7l.62 0.1l.61 -5.8l.62 6.6l.61 -5.5l.61 -0.3l.62 -4.3l.61 2.7l.62 4.5l.61 -8.9l.61 8.4l.62 -1.3l.61 -0.3l.62 -10.7l.61 9.0l.61 3.2l.62 -6.0l.61 3.6l.62 -10.5l.61 12.9l.61 -5.7l.62 6.6l.61 -11.6l.62 10.7l.61 -3.9l.61 4.4l.62 -7.4l.61 1.3l.62 12.1l.61 -13.1l.61 0.5l.62 1.8l.61 -3.2l.62 9.4l.61 2.2l.61 -10.4l.62 -4.3l.61 12.3l.62 -0.4l.61 -1.2l.61 1.4l.62 -8.7l.61 2.9l.62 -5.2l.61 -0.2l.61 10.1l.62 -7.1l.61 12.5l.62 -9.4l.61 -3.1l.61 6.0l.62 4.2l.61 -5.7l.62 -7.3l.61 6.7l.61 4.2l.62 -8.1l.61 -1.3l.62 7.5l.61 -3.9l.61 -5.4l.62 3.0l.61 -1.8l.62 4.4l.61 -1.0l.61 4.3l.62 -2.0l.61 -9.9l.62 8.2l.61 1.9l.61 -2.1l.62 2.3l.61 -7.0l.62 -2.0l.61 7.8l.61 -8.9l.62 -5.0l.61 13.5l.62 -8.0l.61 1.5l.61 -5.1l.62 -0.1l.61 0.3l.62 2.9l.61 2.7l.61 -12.2l.62 12.8l.61 -9.2l.62 -0.2l.61 7.0l.61 -4.2l.62 -7.3l.61 14.0l.62 -13.1l.61 3.7l.61 -1.5l.62 4.0l.61 -10.2l.62 4.9l.61 -10.2l.61 6.3l.62 -11.6l.61 -1.2l.62 7.3l.61 -11.6l.61 -5.5l.62 5.5l.61 -15.1l.62 -12.6l.61 0.9l.61 -18.3l.62 3.7l.61 -9.1l.62 -20.5l.61 -11.4l.61 -7.0l.62 -12.8l.61 -17.6l.62 -2.3l.61 -25.2l.61 1.1l.62 -5.6l.61 -2.1l.62 3.7l.61 -5.3l.61 16.9l.62 4.3l.61 7.7l.62 7.2l.61 13.0l.61 20.8l.62 3.9l.61 16.9l.62 15.9l.61 9.2l.61 11.3l.62 -2.0l.61 3.1l.62 17.0l.61 2.1l.61 8.9l.62 -1.0l.61 9.5l.62 1.8l.61 2.3l.61 1.7l.62 1.8l.61 1.3l.62 1.8l.61 5.1l.61 -5.3l.62 11.3l.61 -7.0l.62 5.9l.61 -3.7l.61 0.2l.62 10.7l.61 -9.4l.62 -3.5l.61 3.0l.61 2.4l.62 11.1l.61 -7.8l.62 3.6l.61 -7.9l.61 6.2l.62 1.8l.61 5.1l.62 -10.3l.61 5.9l.61 -1.0l.62 -5.3l.61 4.5l.62 -0.8l.61 -8.4l.61 12.5l.62 -0.0l.61 -3.9l.62 -3.6l.61 12.0l.61 -4.9l.62 3.3l.61 1.8l.62 -8.0l.61 5.7l.61 -4.2l.62 0.8l.61 0.1l.62 0.4l.61 4.8l.61 -4.1l.62 -1.0l.61 -0.4l.62 2.6l.61 -5.0l.61 1.7l.62 1.9l.61 -2.1l.62 2.0l.61 -2.0l.61 10.9l.62 -2.8l.61 -3.6l.62 -2.0l.61 9.3l.61 -7.7l.62 -1.6l.61 1.6l.62 0.1l.61 4.5l.61 -5.8l.62 8.7l.61 -12.3l.62 6.5l.61 -7.0l.61 11.7l.62 -8.9l.61 1.1l.62 4.1l.61 1.3l.61 -9.8l.62 3.2l.61 -4.4l.62 6.3l.61 -1.0l.61 -1.1l.62 -1.4l.61 1.1l.62 -1.5l.61 5.2l.61 4.0l.62 -14.4l.61 7.4l.62 -1.3l.61 3.6l.61 -6.1l.62 3.2l.61 -3.9l.62 7.0l.61 -2.6l.61 -1.4l.62 2.0l.61 -2.8l.62 -5.8l.61 8.6l.61 -1.7l.62 -2.3l.61 4.3l.62 0.4l.61 -10.3l.61 0.6l.62 9.1l.61 -1.4l.62 -10.2l.61 -2.9l.61 1.1l.62 -0.8l.61 -6.2l.62 5.4l.61 -7.4l.61 -1.6l.62 7.4l.61 -9.3l.62 0.6l.61 0.9l.61 -1.5l.62 -7.4l.61 -0.4l.62 -6.0l.61 10.4l.61 -6.3l.62 -8.9l.61 5.0l.62 3.6l.61 -0.2l.61 7.6l.62 -0.5l.61 -6.8l.62 4.2l.61 -3.1l.61 9.2l.62 1.9l.61 13.5l.62 -9.4l.61 -7.6l.61 8.1l.62 5.1l.61 -4.2l.62 3.1l.61 3.5l.61 4.2l.62 -1.0l.61 -2.1l.62 7.9l.61 -4.7l.61 0.9l.62 -3.0l.61 3.0l.62 6.5l.61 -8.9l.61 6.8l.62 3.6l.61 -4.1l.62 2.8l.61 -5.3l.61 10.2l.62 -0.6l.61 -3.3l.62 -7.9l.61 3.0l.61 8.4l.62 3.1l.61 -5.5l.62 3.9l.61 -7.3l.61 1.8l.62 0.9l.61 1.8l.62 -7.8l.61 10.1l.61 1.6l.62 -9.9l.61 -0.7l.62 6.9l.61 -3.9l.61 -6.8l.62 12.8l.61 -2.6l.62 -2.5l.61 10.5l.61 -7.9l.62 -3.5l.61 3.5l.62 -4.5l.61 1.1l.61 4.6l.62 -3.7l.61 0.5l.62 8.5l.61 -3.2l.61 -0.2l.62 -1.1l.61 -0.1l.62 3.9l.61 -5.9l.61 7.5l.62 -11.1l.61 2.8l.62 -4.5l.61 4.2l.61 3.4l.62 3.7l.61 -8.3l.62 2.6l.61 -1.4l.61 -1.5l.62 -1.8l.61 5.0l.62 -7.1l.61 7.3l.61 -0.3l.62 -2.7l.61 -1.4l.62 -1.5l.61 12.9l.61 -12.7l.62 11.5l.61 -3.8l.62 -3.8l.61 -3.1l.61 8.7l.62 2.7l.61 -10.6l.62 2.5l.61 5.4l.61 -2.9l.62 6.6l.61 -10.2l.62 4.4l.61 -7.1l.61 13.2l.62 -11.2l.61 -5.8l.62 8.2l.61 -0.1l.61 8.1l.62 -9.0l.61 1.3l.62 2.3l.61 3.9l.61 -6.6l.62 4.3l.61 -2.1l.62 -3.3l.61 1.4l.61 -0.3l.62 -3.8l.61 8.3l.62 -10.4l.61 9.9l.61 -1.0l.62 -4.3l.61 -2.9l.62 2.0l.61 2.5l.61 0.8l.62 -2.1l.61 2.5l.62 -6.5l.61 2.8l.61 -7.7l.62 8.9l.61 -2.9l.62 -2.9l.61 5.8l.61 -2.5l.62 -14.9l.61 10.9l.62 -6.8l.61 9.5l.61 5.0l.62 -13.1l.61 1.7l.62 -2.1l.61 1.8l.61 0.6l.62 2.1l.61 -9.8l.62 10.4l.61 -10.5l.61 5.1l.62 3.9l.61 -1.5l.62 -6.3l.61 1.6l.61 1.7l.62 2.5l.61 5.7l.62 -9.1l.61 7.9l.61 1.4l.62 0.5l.61 0.4l.62 4.9l.61 -3.5l.61 2.1l.62 -0.6l.61 5.4l.62 -14.2l.61 13.1l.61 -5.7l.62 0.3l.61 -2.4l.62 -3.2l.61 6.1l.61 -0.9l.62 4.9l.61 -7.5l.62 11.5l.61 -4.3l.61 -1.9l.62 -1.6l.61 -0.2l.62 -1.2l.61 2.4l.61 2.2l.62 -0.6l.61 -4.7l.62 4.6l.61 -2.4l.61 4.2l.62 6.6l.61 -4.7l.62 -3.6l.61 -5.0l.61 0.9l.62 -1.0l.61 9.4l.62 -5.8l.61 3.3l.61 -2.6l.62 2.8l.61 5.1l.62 -8.0l.61 1.3l.61 -1.7l.62 6.5l.61 -7.3l.62 -0.4l.61 -1.0l.61 -0.0l.62 7.2l.61 8.1l.62 -13.6l.61 7.5l.61 -2.7l.62 -5.2l.61 3.2l.62 0.2l.61 -1.7l.61 10.0l.62 -14.7l.61 8.8l.62 -0.2l.61 -3.4l.61 2.8l.62 2.8l.61 -2.8l.62 1.0l.61 1.1l.61 -10.4l.62 13.4l.61 3.1l.62 -5.0l.61 0.2l.61 -9.3l.62 5.0l.61 -2.7l.62 0.9l.61 5.9l.61 -6.7l.62 2.6l.61 -6.8l.62 6.7l.61 0.9l.61 -3.0l.62 -0.1l.61 10.0l.62 -11.8l.61 0.6l.61 0.9l.62 7.6l.61 3.5l.62 -6.8l.61 -4.0l.61 1.1l.62 5.7l.61 -7.5l.62 9.0l.61 -0.2l.61 -5.1l.62 2.2l.61 0.4l.62 3.0l.61 -9.9l.61 8.5l.62 -5.9l.61 -1.5l.62 3.3l.61 -1.2l.61 -3.0l.62 -2.3l.61 2.4l.62 9.1l.61 1.9l.61 -5.0l.62 2.1l.61 -6.5l.62 1.6l.61 1.4l.61 -5.3l.62 0.4l.61 4.1l.62 -1.7l.61 -2.8l.61 5.5l.62 -2.5l.61 4.8l.62 -3.9l.61 -1.2l.61 1.6l.62 -1.2l.61 -2.0l.62 1.0l.61 4.3l.61 -0.5l.62 2.4l.61 -11.4l.62 4.9l.61 -0.2l.61 2.1l.62 -2.4l.61 -0.4l.62 4.9l.61 -2.5l.61 -5.2l.62 9.4l.61 -1.4l.62 -6.2l.61 5.2l.61 -6.1l.62 6.8l.61 -5.3l.62 -2.5l.61 1.4l.61 -1.8l.62 3.4l.61 -0.4l.62 -0.9l.61 -2.7l.61 -12.4l.62 13.9l.61 -8.2l.62 7.6l.61 2.8l.61 -4.1l.62 -3.4l.61 -0.1l.62 -0.8l.61 -2.7l.61 -1.3l.62 -2.7l.61 7.1l.62 -6.4l.61 2.4l.61 -6.6l.62 -0.5l.61 -3.0l.62 0.7l.61 -0.6l.61 -4.5l.62 -5.9l.61 -2.5l.62 8.5l.61 -10.0l.61 -1.5l.62 6.4l.61 -2.4l.62 -2.8l.61 -4.0l.61 12.4l.62 -7.6l.61 1.9l.62 -1.6l.61 -3.5l.61 2.3l.62 9.4l.61 2.0l.62 -0.5l.61 -1.8l.61 0.9l.62 6.5l.61 -2.7l.62 11.2l.61 2.6l.61 8.1l.62 -6.4l.61 -4.5l.62 0.1l.61 -9.0l.61 12.2l.62 2.5l.61 5.2l.62 -0.6l.61 0.6l.61 -0.9l.62 2.3l.61 3.5l.62 -9.1l.61 2.7l.61 -3.1l.62 11.7l.61 -0.9l.62 -1.8l.61 -7.1l.61 5.4l.62 -1.3l.61 1.4l.62 -0.8l.61 2.8l.61 -3.3l.62 4.8l.61 -2.1l.62 -1.9l.61 0.8l.61 -1.1l.62 4.8l.61 -4.0l.62 2.2l.61 -2.4l.61 -4.0l.62 8.9l.61 -7.2l.62 6.5l.61 -0.9l.61 -7.6l.62 2.7l.61 1.6l.62 -1.1l.61 -1.3l.61 7.2l.62 -3.6l.61 2.3l.62 -3.0l.61 2.8l.61 -3.9l.62 2.7l.61 2.2l.62 -2.0l.61 -1.8l.61 -2.3l.62 4.6l.61 0.7l.62 -2.3l.61 -1.9l.61 4.9l.62 7.1l.61 -10.3l.62 2.3l.61 0.2l.61 -10.9l.62 9.9l.61 -3.1l.62 7.7l.61 -6.1l.61 -2.0l.62 2.0l.61 1.4l.62 -2.8l.61 1.9l.61 -4.9l.62 4.1l.61 3.6l.62 4.3l.61 -4.8l.61 -1.7l.62 3.3l.61 -0.7l.62 2.2l.61 -2.3l.61 -4.5l.62 1.2l.61 -0.5l.62 0.3l.61 -0.6l.61 -3.9l.62 -5.1l.61 5.0l.62 -5.3l.61 7.4l.61 -0.6l.62 -6.6l.61 8.3l.62 0.2l.61 -3.5l.61 5.3l.62 0.1l.61 -12.4l.62 7.7l.61 -3.2l.61 -1.1l.62 0.8l.61 -7.5l.62 -0.9l.61 -2.4l.61 -1.3l.62 0.9l.61 -7.1l.62 -0.3l.61 4.5l.61 -4.6l.62 -0.2l.61 -11.3l.62 2.6l.61 -0.9l.61 0.8l.62 -3.8l.61 5.4l.62 -4.7l.61 0.2l.61 0.3l.62 3.7l.61 -3.8l.62 8.0l.61 -1.1l.61 0.6l.62 1.5l.61 3.8l.62 3.9l.61 1.6l.61 -0.4l.62 3.6l.61 -1.3l.62 5.9l.61 -3.6l.61 -6.7l.62 14.3l.61 -3.7l.62 -3.9l.61 4.5l.61 -1.8l.62 11.9l.61 -5.5l.62 -7.3l.61 8.3l.61 -3.2l.62 8.9l.61 -10.9l.62 -4.3l.61 8.7l.61 -1.5l.62 -0.3l.61 -6.6l.62 9.5l.61 4.4l.61 -13.6l.62 11.2l.61 -7.0l.62 10.5l.61 -7.8l.61 -3.0l.62 4.2l.61 -3.1l.62 -5.2l.61 3.9l.61 -5.9l.62 -6.3l.61 13.3l.62 -10.8l.61 -2.8l.61 1.9l.62 -9.6l.61 -1.3l.62 1.2l.61 -2.4l.61 0.2l.62 2.0l.61 -8.8l.62 2.0l.61 -1.3l.61 -8.5l.62 4.5l.61 -5.5l.62 8.4l.61 -2.1l.61 -0.8l.62 -4.3l.61 7.8l.62 -1.6l.61 8.3l.61 -1.0l.62 -0.4l.61 9.4l.62 1.4l.61 -3.0l.61 9.1l.62 -3.7l.61 1.8l.62 3.4l.61 -1.7l.61 2.7l.62 2.4l.61 7.6l.62 1.0l.61 -5.6l.61 7.9l.62 -5.3l.61 2.3l.62 2.6l.61 -1.6l.61 8.4l.62 -7.5l.61 -4.9l.62 9.6l.61 -5.9l.61 0.7l.62 -9.5l.61 14.9l.62 -0.4l.61 0.1l.61 0.9l.62 2.8l.61 -6.2l.62 3.8l.61 -6.0l.61 1.6l.62 5.2l.61 -2.3l.62 -6.1l.61 6.2l.61 -1.9l.62 -2.2l.61 4.6l.62 -3.0l.61 -4.2l.61 1.7l.62 10.3l.61 -11.8l.62 6.2l.61 1.3l.61 -0.1l.62 -6.9l.61 3.0l.62 1.4l.61 2.0l.61 -5.7l.62 -2.3l.61 7.3l.62 -0.3l.61 -3.3l.61 -4.3l.62 3.1l.61 -1.7l.62 2.3l.61 -8.0l.61 5.0l.62 -0.9l.61 -3.1l.62 5.4l.61 0.0l.61 -0.9l.62 3.7l.61 -5.9l.62 5.7l.61 2.4l.61 0.0l.62 3.4l.61 -7.7l.62 -0.7l.61 6.5l.61 1.1l.62 6.2l.61 -5.2l.62 -5.2l.61 6.2l.61 -5.8l.62 -2.2l.61 14.7l.62 -8.1l.61 1.5l.61 -0.5l.62 4.5l.61 -5.4l.62 3.4l.61 -7.9l.61 -1.3l.62 10.0l.61 0.3l.62 -3.4l.61 -1.0l.61 -0.2l.62 -3.0l.61 7.9l.62 -3.1l.61 -0.5l.61 -0.4l.62 2.4l.61 -1.9l.62 0.8l.61 -6.7l.61 5.9l.62 6.0l.61 -9.6l.62 1.4l.61 3.7l.61 0.2l.62 -1.1l.61 -8.0l.62 7.5l.61 -5.9l.61 1.3l.62 4.9l.61 -3.0l.62 3.9l.61 8.3l.61 -8.4l.62 -0.2l.61 -5.7l.62 0.9l.61 -1.4l.61 1.8l.62 -1.9l.61 1.5l.62 1.6l.61 -2.8l.61 -1.4l.62 0.2l.61 6.4l.62 -1.4l.61 3.4l.61 0.1l.62 -4.9l.61 3.6l.62 -7.4l.61 13.1l.61 -3.8l.62 -5.0l.61 -3.3l.62 5.4l.61 -7.9l.61 3.8l.62 5.4l.61 -2.3l.62 -2.0l.61 5.0l.61 -6.9l.62 4.6l.61 -2.7l.62 -1.3l.61 4.7l.61 -5.2l.62 10.2l.61 -8.7l.62 9.0l.61 -10.8l.61 6.0l.62 -6.4l.61 -0.4l.62 5.2l.61 1.8l.61 -6.8l.62 8.6l.61 -6.9l.62 3.2l.61 0.9l.61 0.8l.62 -8.4l.61 12.0l.62 -3.7l.61 -3.5l.61 -2.1l.62 -2.4l.61 1.2l.62 6.7l.61 -3.1l.61 -2.8l.62 2.1l.61 7.4l.62 -6.7l.61 -0.9l.61 6.8l.62 -3.1l.61 -1.5l.62 -2.3l.61 -3.3l.61 1.4l.62 2.4l.61 0.9l.62 2.0l.61 0.7l.61 -1.2l.62 -0.0l.61 -4.3l.62 -4.0l.61 5.7l.61 -1.6l.62 1.1l.61 1.3l.62 -3.4l.61 0.4l.61 3.6l.62 0.7l.61 -2.7l.62 4.0l.61 -2.5l.61 -2.9l.62 3.7l.61 6.4l.62 -8.9l.61 6.4l.61 0.7l.62 0.3l.61 -8.1l.62 9.9l.61 -6.7l.61 -1.4l.62 0.0l.61 2.8l.62 -2.0l.61 -0.9l.61 5.1l.62 -7.2l.61 -1.2l.62 6.3l.61 -0.5l.61 1.2l.62 -7.8l.61 7.4l.62 -2.3l.61 4.3l.61 -10.9l.62 4.9l.61 -2.0l.62 -5.0l.61 2.8l.61 6.2l.62 -6.0l.61 -1.3l.62 5.3l.61 0.1l.61 -0.4l.62 -6.7l.61 2.3l.62 3.6l.61 -6.3l.61 -0.6l.62 5.6l.61 2.5l.62 -9.7l.61 -5.1l.61 4.3l.62 1.7l.61 3.4l.62 3.1l.61 -2.4l.61 -1.6l.62 3.4l.61 -3.6l.62 3.7l.61 -1.8l.61 12.1l.62 -6.2l.61 -5.5l.62 -0.2l.61 2.2l.61 -3.9l.62 3.4l.61 0.2l.62 6.0l.61 -4.4l.61 -1.1l.62 -1.8l.61 0.8l.62 4.0l.61 -0.4l.61 4.8l.62 -6.0l.61 6.0l.62 -2.7l.61 -0.8l.61 -6.9l.62 2.6l.61 7.1l.62 2.3l.61 -4.0l.61 1.9l.62 -4.0l.61 0.2l.62 -1.0l.61 5.8l.61 -2.2l.62 -2.0l.61 -0.2l.62 3.0l.61 -0.7l.61 -4.0l.62 8.9l.61 -5.1l.62 -0.8l.61 5.1l.61 -1.5l.62 -3.9l.61 2.2l.62 -5.5l.61 1.5l.61 -5.6l.62 12.1l.61 -10.8l.62 8.9l.61 -5.2l.61 -0.5l.62 2.8l.61 1.6l.62 1.2l.61 4.0l.61 -4.9l.62 1.9l.61 -5.1l.62 4.5l.61 -1.9l.61 -2.1l.62 1.3l.61 0.1l.62 0.9l.61 0.7l.61 -3.1l.62 -0.8l.61 5.1l.62 -8.4l.61 3.8l.61 7.4l.62 -14.6l.61 6.9l.62 4.8l.61 -8.0l.61 14.6l.62 -17.8l.61 13.8l.62 0.4l.61 -2.2l.61 -3.9l.62 2.0l.61 -4.3l.62 5.9l.61 -6.6l.61 2.9l.62 4.4l.61 -7.3l.62 2.6l.61 1.8l.61 -5.1l.62 8.6l.61 -2.8l.62 -6.4l.61 5.1l.61 -2.5l.62 0.4l.61 2.5l.62 -2.7l.61 5.8l.61 -5.7l.62 5.8l.61 -3.6l.62 3.1l.61 -4.7l.61 0.1l.62 -2.2l.61 5.9l.62 1.3l.61 4.0l.61 -2.8l.62 -3.6l.61 -1.5l.62 2.0l.61 -1.4l.61 5.1l.62 -1.8l.61 -6.0l.62 0.5l.61 7.0l.61 -3.6l.62 -1.8l.61 4.8l.62 -5.4l.61 0.4l.61 -0.6l.62 -5.1l.61 9.6l.62 -7.0l.61 2.2l.61 -0.6l.62 5.0l.61 -2.7l.62 0.3l.61 -5.8l.61 5.5l.62 -4.8l.61 6.1l.62 0.2l.61 -1.3l.61 7.1l.62 -5.2l.61 0.2l.62 -1.5l.61 -1.1l.61 3.9l.62 0.5l.61 -8.2l.62 8.0l.61 -1.8l.61 1.5l.62 -1.6l.61 -5.9l.62 0.3l.61 10.2l.61 -5.3l.62 -5.7l.61 6.0l.62 -2.4l.61 -5.1l.61 -1.5l.62 2.4l.61 6.4l.62 -1.1l.61 -0.7l.61 1.8l.62 1.1l.61 -9.2l.62 6.2l.61 -1.8l.61 -1.4l.62 2.3l.61 1.5l.62 -0.5l.61 -4.0l.61 3.3l.62 8.5l.61 -10.4l.62 -2.2l.61 6.7l.61 1.1l.62 -0.5l.61 -5.3l.62 7.2l.61 -6.1l.61 -1.2l.62 1.8l.61 1.7l.62 2.8l.61 -0.3l.61 -2.2l.62 3.3l.61 -2.9l.62 2.8l.61 -7.8l.61 -0.6l.62 8.0l.61 -7.3l.62 3.6l.61 0.7l.61 -1.3l.62 0.2l.61 6.2l.62 -13.3l.61 11.6l.61 4.8l.62 -7.7l.61 -0.1l.62 2.5l.61 3.7l.61 -10.2l.62 4.3l.61 -0.9l.62 2.6l.61 -1.4l.61 1.7l.62 -3.7l.61 1.6l.62 -2.4l.61 0.0l.61 1.8l.62 0.0l.61 -3.5l.62 9.3l.61 -5.7l.61 -4.3l.62 8.5l.61 -6.3l.62 4.3l.61 -1.8l.61 0.9l.62 -0.3l.61 -2.5l.62 2.1l.61 6.7l.61 -14.4l.62 7.8l.61 1.2l.62 -5.0l.61 -1.0l.61 11.9l.62 -8.6l.61 8.3l.62 -5.2l.61 -1.5l.61 1.3l.62 0.6l.61 1.8l.62 -2.5l.61 -1.0l.61 0.1l.62 4.0l.61 -1.8l.62 -6.1l.61 1.2l.61 3.3l.62 -3.3l.61 0.9l.62 -2.0l.61 2.4l.61 2.3l.62 1.9l.61 -3.3l.62 6.9l.61 -7.2l.61 11.0l.62 -7.4l.61 -1.7l.62 -3.3l.61 -7.9l.61 9.0l.62 1.1l.61 5.9l.62 -11.1l.61 11.0l.61 -7.2l.62 3.3l.61 -11.0l.62 9.0l.61 -1.7l.61 3.5l.62 -2.0l.61 -4.2l.62 7.1l.61 -0.9l.61 -0.3l.62 1.3l.61 0.3l.62 -3.7l.61 -4.6l.61 -0.1l.62 9.2l.61 -2.1l.62 -2.1l.61 -1.8l.61 1.5l.62 -0.0l.61 -1.3l.62 -1.2l.61 9.6l.61 -6.5l.62 -2.9l.61 -2.3l.62 1.9l.61 4.8l.61 0.1l.62 -3.3l.61 0.9l.62 -1.3l.61 -2.7l.61 8.0l.62 -3.1l.61 7.0l.62 -11.0l.61 2.1l.61 3.3l.62 -3.8l.61 -4.0l.62 1.4l.61 3.5l.61 0.7l.62 -1.5l.61 3.6l.62 -0.2l.61 -2.4l.61 -1.1l.62 -1.1l.61 2.6l.62 1.0l.61 -3.1l.61 1.2l.62 -2.9l.61 -3.9l.62 1.1l.61 5.7l.61 -1.4l.62 3.6l.61 -5.6l.62 2.3l.61 1.2l.61 -1.6l.62 -6.0l.61 0.9l.62 0.4l.61 -4.5l.61 4.4l.62 1.2l.61 -6.0l.62 7.7l.61 -8.8l.61 -0.6l.62 -1.1l.61 -2.7l.62 2.9l.61 -2.4l.61 4.8l.62 -4.9l.61 -1.3l.62 -3.7l.61 -5.3l.61 3.9l.62 -3.5l.61 6.0l.62 -4.1l.61 6.0l.61 -3.5l.62 0.5l.61 -2.0l.62 0.4l.61 2.3l.61 1.8l.62 -5.1l.61 5.3l.62 8.8l.61 -8.7l.61 0.5l.62 -0.5l.61 -1.6l.62 10.5l.61 -3.0l.61 1.8l.62 6.4l.61 3.2l.62 -11.0l.61 7.6l.61 -0.7l.62 -0.1l.61 0.9l.62 -1.1l.61 6.1l.61 -2.8l.62 -0.4l.61 3.5l.62 -0.7l.61 -1.1l.61 -0.1l.62 5.2l.61 -3.9l.62 -1.8l.61 -2.3l.61 2.0l.62 -2.1l.61 4.1l.62 0.7l.61 -7.6l.61 7.1l.62 2.3l.61 -1.5l.62 -3.6l.61 7.6l.61 -6.5l.62 -1.6l.61 0.6l.62 3.6l.61 3.5l.61 0.7l.62 -3.1l.61 -4.6l.62 1.8l.61 -0.7l.61 2.5"/>
</g>
<g stroke-width="6.8" stroke-linecap="round" fill="none">
<line x1="540.6" y1="1267.8" x2="540.6" y2="1519" stroke="#000"/>
<line x1="764.0" y1="1318.7" x2="764.0" y2="1519" stroke="#000"/>
<line x1="888.0" y1="1427.4" x2="888.0" y2="1519" stroke="#000"/>
<line x1="895.5" y1="1363.4" x2="895.5" y2="1519" stroke="#f00"/>
<line x1="919.5" y1="1461.9" x2="919.5" y2="1519" stroke="#000"/>
<line x1="944.0" y1="1425.2" x2="944.0" y2="1519" stroke="#00f"/>
<line x1="1031.8" y1="1468.4" x2="1031.8" y2="1519" stroke="#000"/>
<line x1="1085.7" y1="1411.6" x2="1085.7" y2="1519" stroke="#f00"/>
<line x1="1142.9" y1="1443.1" x2="1142.9" y2="1519" stroke="#00f"/>
<line x1="1313.6" y1="1354.2" x2="1313.6" y2="1519" stroke="#000"/>
<line x1="1404.6" y1="1442.4" x2="1404.6" y2="1519" stroke="#000"/>
<line x1="1498.4" y1="1457.1" x2="1498.4" y2="1519" stroke="#000"/>
<line x1="1623.0" y1="1447.1" x2="1623.0" y2="1519" stroke="#000"/>
<line x1="1644.8" y1="1468.3" x2="1644.8" y2="1519" stroke="#000"/>
<line x1="1705.2" y1="1422.1" x2="1705.2" y2="1519" stroke="#f00"/>
<line x1="1710.7" y1="1446.6" x2="1710.7" y2="1519" stroke="#000"/>
<line x1="1747.4" y1="1442.4" x2="1747.4" y2="1519" stroke="#000"/>
<line x1="1793.8" y1="1447.9" x2="1793.8" y2="1519" stroke="#00f"/>
<line x1="1848.4" y1="1467.9" x2="1848.4" y2="1519" stroke="#000"/>
<line x1="1911.2" y1="1456.7" x2="1911.2" y2="1519" stroke="#000"/>
<line x1="1926.1" y1="1467.9" x2="1926.1" y2="1519" stroke="#000"/>
<line x1="2008.8" y1="1467.9" x2="2008.8" y2="1519" stroke="#000"/>
<line x1="2104.4" y1="1412.4" x2="2104.4" y2="1519" stroke="#f00"/>
<line x1="2139.8" y1="1452.0" x2="2139.8" y2="1519" stroke="#000"/>
</g>
<g stroke="#000" fill="none">
<line x1="184" y1="48" x2="184" y2="1523" stroke-width="6"/>
<line x1="2179.5" y1="48" x2="2179.5" y2="1523" stroke-width="5"/>
<line x1="181" y1="50.5" x2="2182" y2="50.5" stroke-width="5"/>
<line x1="181" y1="1520" x2="2182" y2="1520" stroke-width="5.8"/>
<line x1="214.7" y1="1520" x2="214.7" y2="1533.8" stroke-width="6"/>
<line x1="276.1" y1="1520" x2="276.1" y2="1533.8" stroke-width="6"/>
<line x1="337.5" y1="1520" x2="337.5" y2="1549" stroke-width="6"/>
<line x1="398.9" y1="1520" x2="398.9" y2="1533.8" stroke-width="6"/>
<line x1="460.3" y1="1520" x2="460.3" y2="1533.8" stroke-width="6"/>
<line x1="521.7" y1="1520" x2="521.7" y2="1533.8" stroke-width="6"/>
<line x1="583.1" y1="1520" x2="583.1" y2="1533.8" stroke-width="6"/>
<line x1="644.5" y1="1520" x2="644.5" y2="1549" stroke-width="6"/>
<line x1="705.9" y1="1520" x2="705.9" y2="1533.8" stroke-width="6"/>
<line x1="767.3" y1="1520" x2="767.3" y2="1533.8" stroke-width="6"/>
<line x1="828.7" y1="1520" x2="828.7" y2="1533.8" stroke-width="6"/>
<line x1="890.1" y1="1520" x2="890.1" y2="1533.8" stroke-width="6"/>
<line x1="951.5" y1="1520" x2="951.5" y2="1549" stroke-width="6"/>
<line x1="1012.9" y1="1520" x2="1012.9" y2="1533.8" stroke-width="6"/>
<line x1="1074.3" y1="1520" x2="1074.3" y2="1533.8" stroke-width="6"/>
<line x1="1135.7" y1="1520" x2="1135.7" y2="1533.8" stroke-width="6"/>
<line x1="1197.1" y1="1520" x2="1197.1" y2="1533.8" stroke-width="6"/>
<line x1="1258.5" y1="1520" x2="1258.5" y2="1549" stroke-width="6"/>
<line x1="1319.9" y1="1520" x2="1319.9" y2="1533.8" stroke-width="6"/>
<line x1="1381.3" y1="1520" x2="1381.3" y2="1533.8" stroke-width="6"/>
<line x1="1442.7" y1="1520" x2="1442.7" y2="1533.8" stroke-width="6"/>
<line x1="1504.1" y1="1520" x2="1504.1" y2="1533.8" stroke-width="6"/>
<line x1="1565.5" y1="1520" x2="1565.5" y2="1549" stroke-width="6"/>
<line x1="1626.9" y1="1520" x2="1626.9" y2="1533.8" stroke-width="6"/>
<line x1="1688.3" y1="1520" x2="1688.3" y2="1533.8" stroke-width="6"/>
<line x1="1749.7" y1="1520" x2="1749.7" y2="1533.8" stroke-width="6"/>
<line x1="1811.1" y1="1520" x2="1811.1" y2="1533.8" stroke-width="6"/>
<line x1="1872.5" y1="1520" x2="1872.5" y2="1549" stroke-width="6"/>
<line x1="1933.9" y1="1520" x2="1933.9" y2="1533.8" stroke-width="6"/>
<line x1="1995.3" y1="1520" x2="1995.3" y2="1533.8" stroke-width="6"/>
<line x1="2056.7" y1="1520" x2="2056.7" y2="1533.8" stroke-width="6"/>
<line x1="2118.1" y1="1520" x2="2118.1" y2="1533.8" stroke-width="6"/>
<line x1="2179.5" y1="1520" x2="2179.5" y2="1549" stroke-width="6"/>
</g>
<g font-size="75.5" text-anchor="middle" fill="#000">
<text x="337.5" y="1626.7">20</text>
<text x="644.5" y="1626.7">30</text>
<text x="951.5" y="1626.7">40</text>
<text x="1258.5" y="1626.7">50</text>
<text x="1565.5" y="1626.7">60</text>
<text x="1872.5" y="1626.7">70</text>
<text x="2179.5" y="1626.7">80</text>
</g>
<text x="942.4" y="1742" font-size="104" fill="#000">2<tspan font-style="italic" dx="2.5">&#952;</tspan><tspan dx="-1"> (degree)</tspan></text>
<text transform="translate(108 1059.7) rotate(-90)" font-size="104" fill="#000">Intensity (a.u.)</text>
<g font-size="105" fill="#000">
<text x="289.3" y="428.6">(c)</text>
<text x="286.3" y="738.7">(b)</text>
<text x="289.7" y="1125.2">(a)</text>
</g>
<g stroke-width="8" stroke-linecap="round">
<line x1="249" y1="1249.5" x2="283" y2="1249.5" stroke="#00f"/>
<line x1="249" y1="1352.3" x2="283" y2="1352.3" stroke="#f00"/>
<line x1="249" y1="1454.5" x2="283" y2="1454.5" stroke="#000"/>
</g>
<g font-size="84" fill="#000">
<text x="357.4" y="1277">Pt</text>
<text x="358" y="1380.2">Au</text>
<text x="357.2" y="1482.3">SnO<tspan font-size="57" dx="-2.7" dy="22.7">2</tspan></text>
</g>
<g class="pl">
<text transform="translate(927.5 331.3) rotate(-90)" fill="#f00">Au(111)</text>
<text transform="translate(977.2 464.6) rotate(-90)" fill="#00f">Pt(111)</text>
<text transform="translate(1115.7 458.3) rotate(-90)" fill="#f00">Au(200)</text>
<text transform="translate(1177.2 518.6) rotate(-90)" fill="#00f">Pt(200)</text>
<text transform="translate(1825.4 527.0) rotate(-90)" fill="#00f">Pt(220)</text>
<text transform="translate(877.3 784.2) rotate(-90)" fill="#f00">Au(111)</text>
<text transform="translate(1109.1 775.3) rotate(-90)" fill="#f00">Au(200)</text>
<text transform="translate(2119.0 808.2) rotate(-90)" fill="#f00">Au(311)</text>
<text transform="translate(522.5 960.1) rotate(-90)" fill="#000">(110)</text>
<text transform="translate(759.2 993.5) rotate(-90)" fill="#000">(101)</text>
<text transform="translate(903.3 1132.2) rotate(-90)" fill="#000">(200)</text>
<text transform="translate(965.9 1146.1) rotate(-90)" fill="#00f">Pt(111)</text>
<text transform="translate(1154.3 1198.5) rotate(-90)" fill="#00f">Pt(200)</text>
<text transform="translate(1332.9 1026.2) rotate(-90)" fill="#000">(211)</text>
<text transform="translate(1434.8 1194.6) rotate(-90)" fill="#000">(220)</text>
<text transform="translate(1524.2 1216.9) rotate(-90)" fill="#000">(002)</text>
<text transform="translate(1645.8 1190.5) rotate(-90)" fill="#000">(310)</text>
<text transform="translate(1760.2 1190.0) rotate(-90)" fill="#000">(301)</text>
<text transform="translate(1827.4 1219.1) rotate(-90)" fill="#00f">Pt(220)</text>
<text transform="translate(1939.9 1211.6) rotate(-90)" fill="#000">(320)</text>
<text transform="translate(2163.7 1215.0) rotate(-90)" fill="#000">(321)</text>
</g>
</svg>
</body></html>
